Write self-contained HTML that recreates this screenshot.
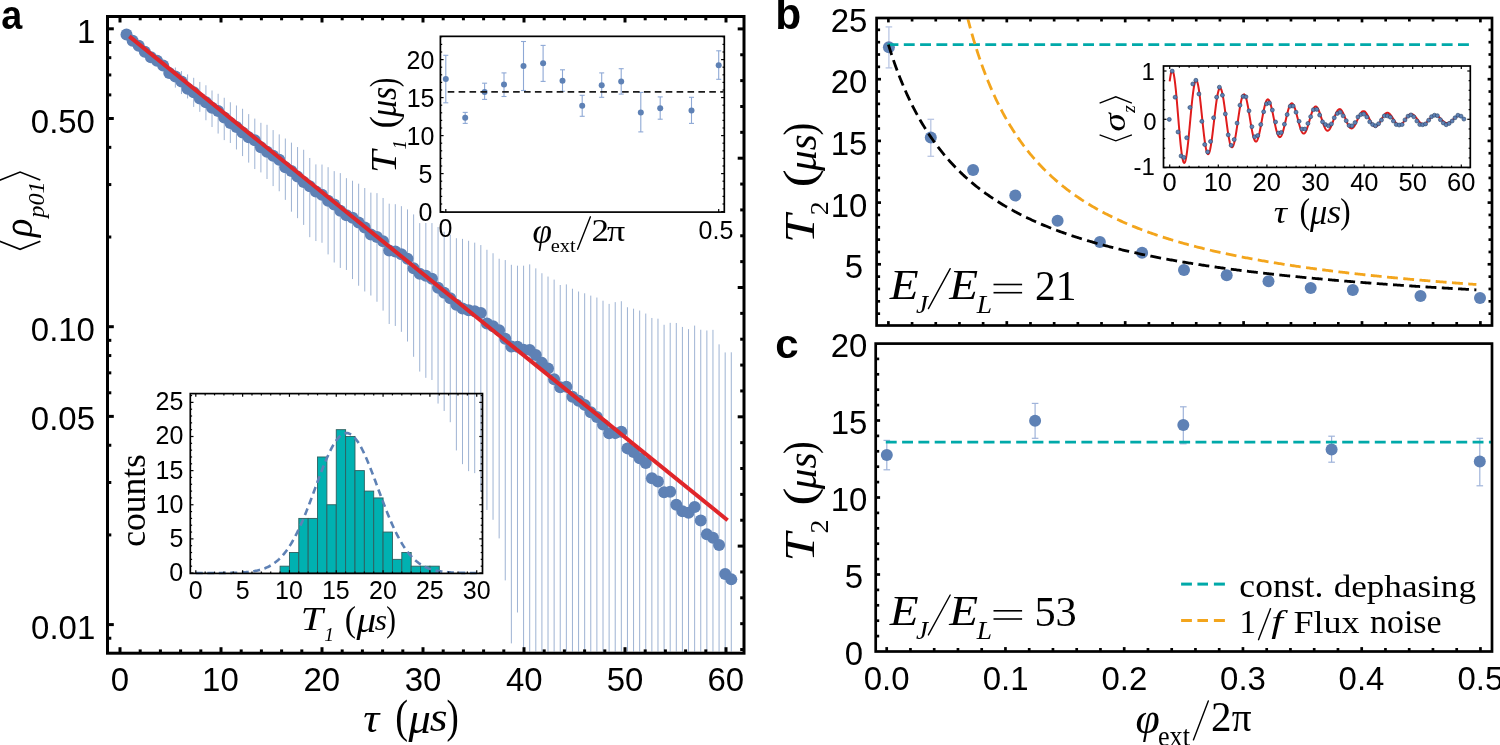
<!DOCTYPE html>
<html><head><meta charset="utf-8"><style>
html,body{margin:0;padding:0;background:#fff;}
svg{display:block;will-change:transform;}
</style></head><body>
<svg width="1500" height="745" viewBox="0 0 1500 745">
<defs>
<clipPath id="clipA"><rect x="109" y="18" width="633.5" height="633.7"/></clipPath>
<clipPath id="clipB"><rect x="878" y="19.5" width="612.5" height="304.2"/></clipPath>
</defs>
<rect width="1500" height="745" fill="#fff"/>
<g clip-path="url(#clipA)">
<line x1="126.50" y1="32.47" x2="126.50" y2="34.65" stroke="#5e81b5" stroke-width="1" stroke-opacity="0.6"/>
<line x1="132.61" y1="38.82" x2="132.61" y2="41.73" stroke="#5e81b5" stroke-width="1" stroke-opacity="0.6"/>
<line x1="138.72" y1="43.72" x2="138.72" y2="47.37" stroke="#5e81b5" stroke-width="1" stroke-opacity="0.6"/>
<line x1="144.83" y1="49.85" x2="144.83" y2="54.23" stroke="#5e81b5" stroke-width="1" stroke-opacity="0.6"/>
<line x1="150.94" y1="55.29" x2="150.94" y2="60.40" stroke="#5e81b5" stroke-width="1" stroke-opacity="0.6"/>
<line x1="157.05" y1="58.67" x2="157.05" y2="64.52" stroke="#5e81b5" stroke-width="1" stroke-opacity="0.6"/>
<line x1="163.15" y1="63.58" x2="163.15" y2="70.16" stroke="#5e81b5" stroke-width="1" stroke-opacity="0.6"/>
<line x1="169.26" y1="71.11" x2="169.26" y2="78.42" stroke="#5e81b5" stroke-width="1" stroke-opacity="0.6"/>
<line x1="175.37" y1="67.50" x2="175.37" y2="87.60" stroke="#5e81b5" stroke-width="1" stroke-opacity="0.6"/>
<line x1="181.48" y1="71.04" x2="181.48" y2="94.06" stroke="#5e81b5" stroke-width="1" stroke-opacity="0.6"/>
<line x1="187.59" y1="74.40" x2="187.59" y2="98.47" stroke="#5e81b5" stroke-width="1" stroke-opacity="0.6"/>
<line x1="193.70" y1="77.81" x2="193.70" y2="106.93" stroke="#5e81b5" stroke-width="1" stroke-opacity="0.6"/>
<line x1="199.81" y1="81.96" x2="199.81" y2="111.83" stroke="#5e81b5" stroke-width="1" stroke-opacity="0.6"/>
<line x1="205.92" y1="85.27" x2="205.92" y2="120.25" stroke="#5e81b5" stroke-width="1" stroke-opacity="0.6"/>
<line x1="212.03" y1="90.51" x2="212.03" y2="127.03" stroke="#5e81b5" stroke-width="1" stroke-opacity="0.6"/>
<line x1="218.13" y1="93.79" x2="218.13" y2="133.55" stroke="#5e81b5" stroke-width="1" stroke-opacity="0.6"/>
<line x1="224.24" y1="97.78" x2="224.24" y2="140.11" stroke="#5e81b5" stroke-width="1" stroke-opacity="0.6"/>
<line x1="230.35" y1="102.27" x2="230.35" y2="142.98" stroke="#5e81b5" stroke-width="1" stroke-opacity="0.6"/>
<line x1="236.46" y1="105.48" x2="236.46" y2="149.46" stroke="#5e81b5" stroke-width="1" stroke-opacity="0.6"/>
<line x1="242.57" y1="108.76" x2="242.57" y2="156.08" stroke="#5e81b5" stroke-width="1" stroke-opacity="0.6"/>
<line x1="248.68" y1="114.13" x2="248.68" y2="162.60" stroke="#5e81b5" stroke-width="1" stroke-opacity="0.6"/>
<line x1="254.79" y1="118.61" x2="254.79" y2="169.05" stroke="#5e81b5" stroke-width="1" stroke-opacity="0.6"/>
<line x1="260.90" y1="122.83" x2="260.90" y2="172.43" stroke="#5e81b5" stroke-width="1" stroke-opacity="0.6"/>
<line x1="267.01" y1="124.81" x2="267.01" y2="179.01" stroke="#5e81b5" stroke-width="1" stroke-opacity="0.6"/>
<line x1="273.12" y1="130.08" x2="273.12" y2="186.10" stroke="#5e81b5" stroke-width="1" stroke-opacity="0.6"/>
<line x1="279.23" y1="134.38" x2="279.23" y2="191.25" stroke="#5e81b5" stroke-width="1" stroke-opacity="0.6"/>
<line x1="285.33" y1="138.52" x2="285.33" y2="199.89" stroke="#5e81b5" stroke-width="1" stroke-opacity="0.6"/>
<line x1="291.44" y1="142.63" x2="291.44" y2="211.70" stroke="#5e81b5" stroke-width="1" stroke-opacity="0.6"/>
<line x1="297.55" y1="147.07" x2="297.55" y2="218.17" stroke="#5e81b5" stroke-width="1" stroke-opacity="0.6"/>
<line x1="303.66" y1="149.78" x2="303.66" y2="224.93" stroke="#5e81b5" stroke-width="1" stroke-opacity="0.6"/>
<line x1="309.77" y1="157.99" x2="309.77" y2="237.17" stroke="#5e81b5" stroke-width="1" stroke-opacity="0.6"/>
<line x1="315.88" y1="164.40" x2="315.88" y2="241.03" stroke="#5e81b5" stroke-width="1" stroke-opacity="0.6"/>
<line x1="321.99" y1="164.56" x2="321.99" y2="242.75" stroke="#5e81b5" stroke-width="1" stroke-opacity="0.6"/>
<line x1="328.10" y1="167.20" x2="328.10" y2="254.40" stroke="#5e81b5" stroke-width="1" stroke-opacity="0.6"/>
<line x1="334.21" y1="171.13" x2="334.21" y2="262.50" stroke="#5e81b5" stroke-width="1" stroke-opacity="0.6"/>
<line x1="340.31" y1="173.12" x2="340.31" y2="267.94" stroke="#5e81b5" stroke-width="1" stroke-opacity="0.6"/>
<line x1="346.42" y1="178.16" x2="346.42" y2="269.96" stroke="#5e81b5" stroke-width="1" stroke-opacity="0.6"/>
<line x1="352.53" y1="180.74" x2="352.53" y2="279.09" stroke="#5e81b5" stroke-width="1" stroke-opacity="0.6"/>
<line x1="358.64" y1="183.70" x2="358.64" y2="285.73" stroke="#5e81b5" stroke-width="1" stroke-opacity="0.6"/>
<line x1="364.75" y1="188.03" x2="364.75" y2="291.48" stroke="#5e81b5" stroke-width="1" stroke-opacity="0.6"/>
<line x1="370.86" y1="192.65" x2="370.86" y2="295.56" stroke="#5e81b5" stroke-width="1" stroke-opacity="0.6"/>
<line x1="376.97" y1="193.13" x2="376.97" y2="301.74" stroke="#5e81b5" stroke-width="1" stroke-opacity="0.6"/>
<line x1="383.08" y1="197.97" x2="383.08" y2="310.61" stroke="#5e81b5" stroke-width="1" stroke-opacity="0.6"/>
<line x1="389.19" y1="203.69" x2="389.19" y2="323.97" stroke="#5e81b5" stroke-width="1" stroke-opacity="0.6"/>
<line x1="395.30" y1="204.20" x2="395.30" y2="325.97" stroke="#5e81b5" stroke-width="1" stroke-opacity="0.6"/>
<line x1="401.40" y1="206.20" x2="401.40" y2="331.82" stroke="#5e81b5" stroke-width="1" stroke-opacity="0.6"/>
<line x1="407.51" y1="209.39" x2="407.51" y2="341.53" stroke="#5e81b5" stroke-width="1" stroke-opacity="0.6"/>
<line x1="413.62" y1="214.42" x2="413.62" y2="356.80" stroke="#5e81b5" stroke-width="1" stroke-opacity="0.6"/>
<line x1="419.73" y1="223.10" x2="419.73" y2="371.55" stroke="#5e81b5" stroke-width="1" stroke-opacity="0.6"/>
<line x1="425.84" y1="223.00" x2="425.84" y2="377.82" stroke="#5e81b5" stroke-width="1" stroke-opacity="0.6"/>
<line x1="431.95" y1="223.09" x2="431.95" y2="379.98" stroke="#5e81b5" stroke-width="1" stroke-opacity="0.6"/>
<line x1="438.06" y1="227.00" x2="438.06" y2="403.57" stroke="#5e81b5" stroke-width="1" stroke-opacity="0.6"/>
<line x1="444.17" y1="231.73" x2="444.17" y2="410.96" stroke="#5e81b5" stroke-width="1" stroke-opacity="0.6"/>
<line x1="450.28" y1="234.70" x2="450.28" y2="422.20" stroke="#5e81b5" stroke-width="1" stroke-opacity="0.6"/>
<line x1="456.39" y1="238.22" x2="456.39" y2="450.43" stroke="#5e81b5" stroke-width="1" stroke-opacity="0.6"/>
<line x1="462.50" y1="238.89" x2="462.50" y2="464.17" stroke="#5e81b5" stroke-width="1" stroke-opacity="0.6"/>
<line x1="468.60" y1="240.79" x2="468.60" y2="471.14" stroke="#5e81b5" stroke-width="1" stroke-opacity="0.6"/>
<line x1="474.71" y1="242.65" x2="474.71" y2="473.14" stroke="#5e81b5" stroke-width="1" stroke-opacity="0.6"/>
<line x1="480.82" y1="245.05" x2="480.82" y2="491.47" stroke="#5e81b5" stroke-width="1" stroke-opacity="0.6"/>
<line x1="486.93" y1="249.77" x2="486.93" y2="509.98" stroke="#5e81b5" stroke-width="1" stroke-opacity="0.6"/>
<line x1="493.04" y1="253.24" x2="493.04" y2="519.82" stroke="#5e81b5" stroke-width="1" stroke-opacity="0.6"/>
<line x1="499.15" y1="258.75" x2="499.15" y2="538.39" stroke="#5e81b5" stroke-width="1" stroke-opacity="0.6"/>
<line x1="505.26" y1="260.07" x2="505.26" y2="580.38" stroke="#5e81b5" stroke-width="1" stroke-opacity="0.6"/>
<line x1="511.37" y1="264.81" x2="511.37" y2="643.38" stroke="#5e81b5" stroke-width="1" stroke-opacity="0.6"/>
<line x1="517.48" y1="265.70" x2="517.48" y2="612.49" stroke="#5e81b5" stroke-width="1" stroke-opacity="0.6"/>
<line x1="523.59" y1="265.68" x2="523.59" y2="651.70" stroke="#5e81b5" stroke-width="1" stroke-opacity="0.6"/>
<line x1="529.69" y1="264.39" x2="529.69" y2="651.70" stroke="#5e81b5" stroke-width="1" stroke-opacity="0.6"/>
<line x1="535.80" y1="268.36" x2="535.80" y2="651.70" stroke="#5e81b5" stroke-width="1" stroke-opacity="0.6"/>
<line x1="541.91" y1="273.26" x2="541.91" y2="651.70" stroke="#5e81b5" stroke-width="1" stroke-opacity="0.6"/>
<line x1="548.02" y1="276.56" x2="548.02" y2="651.70" stroke="#5e81b5" stroke-width="1" stroke-opacity="0.6"/>
<line x1="554.13" y1="279.62" x2="554.13" y2="651.70" stroke="#5e81b5" stroke-width="1" stroke-opacity="0.6"/>
<line x1="560.24" y1="285.00" x2="560.24" y2="651.70" stroke="#5e81b5" stroke-width="1" stroke-opacity="0.6"/>
<line x1="566.35" y1="284.41" x2="566.35" y2="651.70" stroke="#5e81b5" stroke-width="1" stroke-opacity="0.6"/>
<line x1="572.46" y1="288.73" x2="572.46" y2="651.70" stroke="#5e81b5" stroke-width="1" stroke-opacity="0.6"/>
<line x1="578.57" y1="291.52" x2="578.57" y2="651.70" stroke="#5e81b5" stroke-width="1" stroke-opacity="0.6"/>
<line x1="584.67" y1="293.27" x2="584.67" y2="651.70" stroke="#5e81b5" stroke-width="1" stroke-opacity="0.6"/>
<line x1="590.78" y1="295.63" x2="590.78" y2="651.70" stroke="#5e81b5" stroke-width="1" stroke-opacity="0.6"/>
<line x1="596.89" y1="297.55" x2="596.89" y2="651.70" stroke="#5e81b5" stroke-width="1" stroke-opacity="0.6"/>
<line x1="603.00" y1="300.71" x2="603.00" y2="651.70" stroke="#5e81b5" stroke-width="1" stroke-opacity="0.6"/>
<line x1="609.11" y1="303.90" x2="609.11" y2="651.70" stroke="#5e81b5" stroke-width="1" stroke-opacity="0.6"/>
<line x1="615.22" y1="302.13" x2="615.22" y2="651.70" stroke="#5e81b5" stroke-width="1" stroke-opacity="0.6"/>
<line x1="621.33" y1="301.22" x2="621.33" y2="651.70" stroke="#5e81b5" stroke-width="1" stroke-opacity="0.6"/>
<line x1="627.44" y1="307.24" x2="627.44" y2="651.70" stroke="#5e81b5" stroke-width="1" stroke-opacity="0.6"/>
<line x1="633.55" y1="308.69" x2="633.55" y2="651.70" stroke="#5e81b5" stroke-width="1" stroke-opacity="0.6"/>
<line x1="639.66" y1="310.53" x2="639.66" y2="651.70" stroke="#5e81b5" stroke-width="1" stroke-opacity="0.6"/>
<line x1="645.76" y1="313.54" x2="645.76" y2="651.70" stroke="#5e81b5" stroke-width="1" stroke-opacity="0.6"/>
<line x1="651.87" y1="317.98" x2="651.87" y2="651.70" stroke="#5e81b5" stroke-width="1" stroke-opacity="0.6"/>
<line x1="657.98" y1="318.68" x2="657.98" y2="651.70" stroke="#5e81b5" stroke-width="1" stroke-opacity="0.6"/>
<line x1="664.09" y1="324.79" x2="664.09" y2="651.70" stroke="#5e81b5" stroke-width="1" stroke-opacity="0.6"/>
<line x1="670.20" y1="322.85" x2="670.20" y2="651.70" stroke="#5e81b5" stroke-width="1" stroke-opacity="0.6"/>
<line x1="676.31" y1="322.99" x2="676.31" y2="651.70" stroke="#5e81b5" stroke-width="1" stroke-opacity="0.6"/>
<line x1="682.42" y1="326.95" x2="682.42" y2="651.70" stroke="#5e81b5" stroke-width="1" stroke-opacity="0.6"/>
<line x1="688.53" y1="329.14" x2="688.53" y2="651.70" stroke="#5e81b5" stroke-width="1" stroke-opacity="0.6"/>
<line x1="694.64" y1="325.60" x2="694.64" y2="651.70" stroke="#5e81b5" stroke-width="1" stroke-opacity="0.6"/>
<line x1="700.75" y1="329.76" x2="700.75" y2="651.70" stroke="#5e81b5" stroke-width="1" stroke-opacity="0.6"/>
<line x1="706.86" y1="330.49" x2="706.86" y2="651.70" stroke="#5e81b5" stroke-width="1" stroke-opacity="0.6"/>
<line x1="712.96" y1="329.84" x2="712.96" y2="651.70" stroke="#5e81b5" stroke-width="1" stroke-opacity="0.6"/>
<line x1="719.07" y1="344.33" x2="719.07" y2="651.70" stroke="#5e81b5" stroke-width="1" stroke-opacity="0.6"/>
<line x1="725.18" y1="352.43" x2="725.18" y2="651.70" stroke="#5e81b5" stroke-width="1" stroke-opacity="0.6"/>
<line x1="731.29" y1="352.30" x2="731.29" y2="651.70" stroke="#5e81b5" stroke-width="1" stroke-opacity="0.6"/>
<circle cx="126.50" cy="34.47" r="6" fill="#5e81b5" />
<circle cx="132.61" cy="40.82" r="6" fill="#5e81b5" />
<circle cx="138.72" cy="45.72" r="6" fill="#5e81b5" />
<circle cx="144.83" cy="51.85" r="6" fill="#5e81b5" />
<circle cx="150.94" cy="57.29" r="6" fill="#5e81b5" />
<circle cx="157.05" cy="60.67" r="6" fill="#5e81b5" />
<circle cx="163.15" cy="65.58" r="6" fill="#5e81b5" />
<circle cx="169.26" cy="73.11" r="6" fill="#5e81b5" />
<circle cx="175.37" cy="76.44" r="6" fill="#5e81b5" />
<circle cx="181.48" cy="81.43" r="6" fill="#5e81b5" />
<circle cx="187.59" cy="88.77" r="6" fill="#5e81b5" />
<circle cx="193.70" cy="92.26" r="6" fill="#5e81b5" />
<circle cx="199.81" cy="98.42" r="6" fill="#5e81b5" />
<circle cx="205.92" cy="102.25" r="6" fill="#5e81b5" />
<circle cx="212.03" cy="107.65" r="6" fill="#5e81b5" />
<circle cx="218.13" cy="111.09" r="6" fill="#5e81b5" />
<circle cx="224.24" cy="117.46" r="6" fill="#5e81b5" />
<circle cx="230.35" cy="123.06" r="6" fill="#5e81b5" />
<circle cx="236.46" cy="126.94" r="6" fill="#5e81b5" />
<circle cx="242.57" cy="132.50" r="6" fill="#5e81b5" />
<circle cx="248.68" cy="137.20" r="6" fill="#5e81b5" />
<circle cx="254.79" cy="140.29" r="6" fill="#5e81b5" />
<circle cx="260.90" cy="147.28" r="6" fill="#5e81b5" />
<circle cx="267.01" cy="151.69" r="6" fill="#5e81b5" />
<circle cx="273.12" cy="155.73" r="6" fill="#5e81b5" />
<circle cx="279.23" cy="159.83" r="6" fill="#5e81b5" />
<circle cx="285.33" cy="167.24" r="6" fill="#5e81b5" />
<circle cx="291.44" cy="170.97" r="6" fill="#5e81b5" />
<circle cx="297.55" cy="176.62" r="6" fill="#5e81b5" />
<circle cx="303.66" cy="181.92" r="6" fill="#5e81b5" />
<circle cx="309.77" cy="186.19" r="6" fill="#5e81b5" />
<circle cx="315.88" cy="191.58" r="6" fill="#5e81b5" />
<circle cx="321.99" cy="194.76" r="6" fill="#5e81b5" />
<circle cx="328.10" cy="200.75" r="6" fill="#5e81b5" />
<circle cx="334.21" cy="204.44" r="6" fill="#5e81b5" />
<circle cx="340.31" cy="210.68" r="6" fill="#5e81b5" />
<circle cx="346.42" cy="215.28" r="6" fill="#5e81b5" />
<circle cx="352.53" cy="217.70" r="6" fill="#5e81b5" />
<circle cx="358.64" cy="222.58" r="6" fill="#5e81b5" />
<circle cx="364.75" cy="227.59" r="6" fill="#5e81b5" />
<circle cx="370.86" cy="234.49" r="6" fill="#5e81b5" />
<circle cx="376.97" cy="236.93" r="6" fill="#5e81b5" />
<circle cx="383.08" cy="241.15" r="6" fill="#5e81b5" />
<circle cx="389.19" cy="250.49" r="6" fill="#5e81b5" />
<circle cx="395.30" cy="251.53" r="6" fill="#5e81b5" />
<circle cx="401.40" cy="254.35" r="6" fill="#5e81b5" />
<circle cx="407.51" cy="258.86" r="6" fill="#5e81b5" />
<circle cx="413.62" cy="268.20" r="6" fill="#5e81b5" />
<circle cx="419.73" cy="273.70" r="6" fill="#5e81b5" />
<circle cx="425.84" cy="275.74" r="6" fill="#5e81b5" />
<circle cx="431.95" cy="278.79" r="6" fill="#5e81b5" />
<circle cx="438.06" cy="287.85" r="6" fill="#5e81b5" />
<circle cx="444.17" cy="292.70" r="6" fill="#5e81b5" />
<circle cx="450.28" cy="298.36" r="6" fill="#5e81b5" />
<circle cx="456.39" cy="304.84" r="6" fill="#5e81b5" />
<circle cx="462.50" cy="308.48" r="6" fill="#5e81b5" />
<circle cx="468.60" cy="310.19" r="6" fill="#5e81b5" />
<circle cx="474.71" cy="311.32" r="6" fill="#5e81b5" />
<circle cx="480.82" cy="313.05" r="6" fill="#5e81b5" />
<circle cx="486.93" cy="323.46" r="6" fill="#5e81b5" />
<circle cx="493.04" cy="326.36" r="6" fill="#5e81b5" />
<circle cx="499.15" cy="330.28" r="6" fill="#5e81b5" />
<circle cx="505.26" cy="338.68" r="6" fill="#5e81b5" />
<circle cx="511.37" cy="346.41" r="6" fill="#5e81b5" />
<circle cx="517.48" cy="346.64" r="6" fill="#5e81b5" />
<circle cx="523.59" cy="349.78" r="6" fill="#5e81b5" />
<circle cx="529.69" cy="349.88" r="6" fill="#5e81b5" />
<circle cx="535.80" cy="354.97" r="6" fill="#5e81b5" />
<circle cx="541.91" cy="362.87" r="6" fill="#5e81b5" />
<circle cx="548.02" cy="368.49" r="6" fill="#5e81b5" />
<circle cx="554.13" cy="379.24" r="6" fill="#5e81b5" />
<circle cx="560.24" cy="387.28" r="6" fill="#5e81b5" />
<circle cx="566.35" cy="386.71" r="6" fill="#5e81b5" />
<circle cx="572.46" cy="396.66" r="6" fill="#5e81b5" />
<circle cx="578.57" cy="400.84" r="6" fill="#5e81b5" />
<circle cx="584.67" cy="404.88" r="6" fill="#5e81b5" />
<circle cx="590.78" cy="412.26" r="6" fill="#5e81b5" />
<circle cx="596.89" cy="416.90" r="6" fill="#5e81b5" />
<circle cx="603.00" cy="424.58" r="6" fill="#5e81b5" />
<circle cx="609.11" cy="433.14" r="6" fill="#5e81b5" />
<circle cx="615.22" cy="433.13" r="6" fill="#5e81b5" />
<circle cx="621.33" cy="431.77" r="6" fill="#5e81b5" />
<circle cx="627.44" cy="448.38" r="6" fill="#5e81b5" />
<circle cx="633.55" cy="452.07" r="6" fill="#5e81b5" />
<circle cx="639.66" cy="458.17" r="6" fill="#5e81b5" />
<circle cx="645.76" cy="462.99" r="6" fill="#5e81b5" />
<circle cx="651.87" cy="478.27" r="6" fill="#5e81b5" />
<circle cx="657.98" cy="481.49" r="6" fill="#5e81b5" />
<circle cx="664.09" cy="492.22" r="6" fill="#5e81b5" />
<circle cx="670.20" cy="491.66" r="6" fill="#5e81b5" />
<circle cx="676.31" cy="504.76" r="6" fill="#5e81b5" />
<circle cx="682.42" cy="511.24" r="6" fill="#5e81b5" />
<circle cx="688.53" cy="512.65" r="6" fill="#5e81b5" />
<circle cx="694.64" cy="507.00" r="6" fill="#5e81b5" />
<circle cx="700.75" cy="520.42" r="6" fill="#5e81b5" />
<circle cx="706.86" cy="534.37" r="6" fill="#5e81b5" />
<circle cx="712.96" cy="537.67" r="6" fill="#5e81b5" />
<circle cx="719.07" cy="544.89" r="6" fill="#5e81b5" />
<circle cx="725.18" cy="574.06" r="6" fill="#5e81b5" />
<circle cx="731.29" cy="579.37" r="6" fill="#5e81b5" />
</g>
<line x1="129.30" y1="36.40" x2="727.60" y2="520.20" stroke="#e0262a" stroke-width="4.0" />
<rect x="107.50" y="16.50" width="636.50" height="636.70" fill="none" stroke="#000" stroke-width="3"/>
<line x1="120.00" y1="653.20" x2="120.00" y2="647.20" stroke="#000" stroke-width="3" />
<line x1="120.00" y1="16.50" x2="120.00" y2="22.50" stroke="#000" stroke-width="3" />
<line x1="140.20" y1="653.20" x2="140.20" y2="649.40" stroke="#000" stroke-width="3" />
<line x1="140.20" y1="16.50" x2="140.20" y2="20.30" stroke="#000" stroke-width="3" />
<line x1="160.40" y1="653.20" x2="160.40" y2="649.40" stroke="#000" stroke-width="3" />
<line x1="160.40" y1="16.50" x2="160.40" y2="20.30" stroke="#000" stroke-width="3" />
<line x1="180.60" y1="653.20" x2="180.60" y2="649.40" stroke="#000" stroke-width="3" />
<line x1="180.60" y1="16.50" x2="180.60" y2="20.30" stroke="#000" stroke-width="3" />
<line x1="200.80" y1="653.20" x2="200.80" y2="649.40" stroke="#000" stroke-width="3" />
<line x1="200.80" y1="16.50" x2="200.80" y2="20.30" stroke="#000" stroke-width="3" />
<line x1="221.00" y1="653.20" x2="221.00" y2="647.20" stroke="#000" stroke-width="3" />
<line x1="221.00" y1="16.50" x2="221.00" y2="22.50" stroke="#000" stroke-width="3" />
<line x1="241.20" y1="653.20" x2="241.20" y2="649.40" stroke="#000" stroke-width="3" />
<line x1="241.20" y1="16.50" x2="241.20" y2="20.30" stroke="#000" stroke-width="3" />
<line x1="261.40" y1="653.20" x2="261.40" y2="649.40" stroke="#000" stroke-width="3" />
<line x1="261.40" y1="16.50" x2="261.40" y2="20.30" stroke="#000" stroke-width="3" />
<line x1="281.60" y1="653.20" x2="281.60" y2="649.40" stroke="#000" stroke-width="3" />
<line x1="281.60" y1="16.50" x2="281.60" y2="20.30" stroke="#000" stroke-width="3" />
<line x1="301.80" y1="653.20" x2="301.80" y2="649.40" stroke="#000" stroke-width="3" />
<line x1="301.80" y1="16.50" x2="301.80" y2="20.30" stroke="#000" stroke-width="3" />
<line x1="322.00" y1="653.20" x2="322.00" y2="647.20" stroke="#000" stroke-width="3" />
<line x1="322.00" y1="16.50" x2="322.00" y2="22.50" stroke="#000" stroke-width="3" />
<line x1="342.20" y1="653.20" x2="342.20" y2="649.40" stroke="#000" stroke-width="3" />
<line x1="342.20" y1="16.50" x2="342.20" y2="20.30" stroke="#000" stroke-width="3" />
<line x1="362.40" y1="653.20" x2="362.40" y2="649.40" stroke="#000" stroke-width="3" />
<line x1="362.40" y1="16.50" x2="362.40" y2="20.30" stroke="#000" stroke-width="3" />
<line x1="382.60" y1="653.20" x2="382.60" y2="649.40" stroke="#000" stroke-width="3" />
<line x1="382.60" y1="16.50" x2="382.60" y2="20.30" stroke="#000" stroke-width="3" />
<line x1="402.80" y1="653.20" x2="402.80" y2="649.40" stroke="#000" stroke-width="3" />
<line x1="402.80" y1="16.50" x2="402.80" y2="20.30" stroke="#000" stroke-width="3" />
<line x1="423.00" y1="653.20" x2="423.00" y2="647.20" stroke="#000" stroke-width="3" />
<line x1="423.00" y1="16.50" x2="423.00" y2="22.50" stroke="#000" stroke-width="3" />
<line x1="443.20" y1="653.20" x2="443.20" y2="649.40" stroke="#000" stroke-width="3" />
<line x1="443.20" y1="16.50" x2="443.20" y2="20.30" stroke="#000" stroke-width="3" />
<line x1="463.40" y1="653.20" x2="463.40" y2="649.40" stroke="#000" stroke-width="3" />
<line x1="463.40" y1="16.50" x2="463.40" y2="20.30" stroke="#000" stroke-width="3" />
<line x1="483.60" y1="653.20" x2="483.60" y2="649.40" stroke="#000" stroke-width="3" />
<line x1="483.60" y1="16.50" x2="483.60" y2="20.30" stroke="#000" stroke-width="3" />
<line x1="503.80" y1="653.20" x2="503.80" y2="649.40" stroke="#000" stroke-width="3" />
<line x1="503.80" y1="16.50" x2="503.80" y2="20.30" stroke="#000" stroke-width="3" />
<line x1="524.00" y1="653.20" x2="524.00" y2="647.20" stroke="#000" stroke-width="3" />
<line x1="524.00" y1="16.50" x2="524.00" y2="22.50" stroke="#000" stroke-width="3" />
<line x1="544.20" y1="653.20" x2="544.20" y2="649.40" stroke="#000" stroke-width="3" />
<line x1="544.20" y1="16.50" x2="544.20" y2="20.30" stroke="#000" stroke-width="3" />
<line x1="564.40" y1="653.20" x2="564.40" y2="649.40" stroke="#000" stroke-width="3" />
<line x1="564.40" y1="16.50" x2="564.40" y2="20.30" stroke="#000" stroke-width="3" />
<line x1="584.60" y1="653.20" x2="584.60" y2="649.40" stroke="#000" stroke-width="3" />
<line x1="584.60" y1="16.50" x2="584.60" y2="20.30" stroke="#000" stroke-width="3" />
<line x1="604.80" y1="653.20" x2="604.80" y2="649.40" stroke="#000" stroke-width="3" />
<line x1="604.80" y1="16.50" x2="604.80" y2="20.30" stroke="#000" stroke-width="3" />
<line x1="625.00" y1="653.20" x2="625.00" y2="647.20" stroke="#000" stroke-width="3" />
<line x1="625.00" y1="16.50" x2="625.00" y2="22.50" stroke="#000" stroke-width="3" />
<line x1="645.20" y1="653.20" x2="645.20" y2="649.40" stroke="#000" stroke-width="3" />
<line x1="645.20" y1="16.50" x2="645.20" y2="20.30" stroke="#000" stroke-width="3" />
<line x1="665.40" y1="653.20" x2="665.40" y2="649.40" stroke="#000" stroke-width="3" />
<line x1="665.40" y1="16.50" x2="665.40" y2="20.30" stroke="#000" stroke-width="3" />
<line x1="685.60" y1="653.20" x2="685.60" y2="649.40" stroke="#000" stroke-width="3" />
<line x1="685.60" y1="16.50" x2="685.60" y2="20.30" stroke="#000" stroke-width="3" />
<line x1="705.80" y1="653.20" x2="705.80" y2="649.40" stroke="#000" stroke-width="3" />
<line x1="705.80" y1="16.50" x2="705.80" y2="20.30" stroke="#000" stroke-width="3" />
<line x1="726.00" y1="653.20" x2="726.00" y2="647.20" stroke="#000" stroke-width="3" />
<line x1="726.00" y1="16.50" x2="726.00" y2="22.50" stroke="#000" stroke-width="3" />
<line x1="107.50" y1="28.80" x2="113.80" y2="28.80" stroke="#000" stroke-width="3" />
<line x1="107.50" y1="118.48" x2="113.80" y2="118.48" stroke="#000" stroke-width="3" />
<line x1="107.50" y1="326.70" x2="113.80" y2="326.70" stroke="#000" stroke-width="3" />
<line x1="107.50" y1="416.38" x2="113.80" y2="416.38" stroke="#000" stroke-width="3" />
<line x1="107.50" y1="624.60" x2="113.80" y2="624.60" stroke="#000" stroke-width="3" />
<line x1="107.50" y1="42.43" x2="111.30" y2="42.43" stroke="#000" stroke-width="3" />
<line x1="107.50" y1="57.67" x2="111.30" y2="57.67" stroke="#000" stroke-width="3" />
<line x1="107.50" y1="74.95" x2="111.30" y2="74.95" stroke="#000" stroke-width="3" />
<line x1="107.50" y1="94.89" x2="111.30" y2="94.89" stroke="#000" stroke-width="3" />
<line x1="107.50" y1="147.35" x2="111.30" y2="147.35" stroke="#000" stroke-width="3" />
<line x1="107.50" y1="184.57" x2="111.30" y2="184.57" stroke="#000" stroke-width="3" />
<line x1="107.50" y1="237.02" x2="111.30" y2="237.02" stroke="#000" stroke-width="3" />
<line x1="107.50" y1="340.33" x2="111.30" y2="340.33" stroke="#000" stroke-width="3" />
<line x1="107.50" y1="355.57" x2="111.30" y2="355.57" stroke="#000" stroke-width="3" />
<line x1="107.50" y1="372.85" x2="111.30" y2="372.85" stroke="#000" stroke-width="3" />
<line x1="107.50" y1="392.79" x2="111.30" y2="392.79" stroke="#000" stroke-width="3" />
<line x1="107.50" y1="445.25" x2="111.30" y2="445.25" stroke="#000" stroke-width="3" />
<line x1="107.50" y1="482.47" x2="111.30" y2="482.47" stroke="#000" stroke-width="3" />
<line x1="107.50" y1="534.92" x2="111.30" y2="534.92" stroke="#000" stroke-width="3" />
<line x1="107.50" y1="638.23" x2="111.30" y2="638.23" stroke="#000" stroke-width="3" />
<line x1="744.00" y1="28.90" x2="737.70" y2="28.90" stroke="#000" stroke-width="3" />
<line x1="744.00" y1="54.76" x2="740.20" y2="54.76" stroke="#000" stroke-width="3" />
<line x1="744.00" y1="80.62" x2="740.20" y2="80.62" stroke="#000" stroke-width="3" />
<line x1="744.00" y1="106.48" x2="740.20" y2="106.48" stroke="#000" stroke-width="3" />
<line x1="744.00" y1="132.34" x2="740.20" y2="132.34" stroke="#000" stroke-width="3" />
<line x1="744.00" y1="158.20" x2="737.70" y2="158.20" stroke="#000" stroke-width="3" />
<line x1="744.00" y1="184.06" x2="740.20" y2="184.06" stroke="#000" stroke-width="3" />
<line x1="744.00" y1="209.92" x2="740.20" y2="209.92" stroke="#000" stroke-width="3" />
<line x1="744.00" y1="235.78" x2="740.20" y2="235.78" stroke="#000" stroke-width="3" />
<line x1="744.00" y1="261.64" x2="740.20" y2="261.64" stroke="#000" stroke-width="3" />
<line x1="744.00" y1="287.50" x2="737.70" y2="287.50" stroke="#000" stroke-width="3" />
<line x1="744.00" y1="313.36" x2="740.20" y2="313.36" stroke="#000" stroke-width="3" />
<line x1="744.00" y1="339.22" x2="740.20" y2="339.22" stroke="#000" stroke-width="3" />
<line x1="744.00" y1="365.08" x2="740.20" y2="365.08" stroke="#000" stroke-width="3" />
<line x1="744.00" y1="390.94" x2="740.20" y2="390.94" stroke="#000" stroke-width="3" />
<line x1="744.00" y1="416.80" x2="737.70" y2="416.80" stroke="#000" stroke-width="3" />
<line x1="744.00" y1="442.66" x2="740.20" y2="442.66" stroke="#000" stroke-width="3" />
<line x1="744.00" y1="468.52" x2="740.20" y2="468.52" stroke="#000" stroke-width="3" />
<line x1="744.00" y1="494.38" x2="740.20" y2="494.38" stroke="#000" stroke-width="3" />
<line x1="744.00" y1="520.24" x2="740.20" y2="520.24" stroke="#000" stroke-width="3" />
<line x1="744.00" y1="546.10" x2="737.70" y2="546.10" stroke="#000" stroke-width="3" />
<line x1="744.00" y1="571.96" x2="740.20" y2="571.96" stroke="#000" stroke-width="3" />
<line x1="744.00" y1="597.82" x2="740.20" y2="597.82" stroke="#000" stroke-width="3" />
<line x1="744.00" y1="623.68" x2="740.20" y2="623.68" stroke="#000" stroke-width="3" />
<line x1="744.00" y1="649.54" x2="740.20" y2="649.54" stroke="#000" stroke-width="3" />
<text transform="translate(76.96,42.89) scale(0.9700,1)" font-size="34.00" font-family="Liberation Sans" fill="#000">1</text>
<text transform="translate(30.79,132.56) scale(0.9700,1)" font-size="34.00" font-family="Liberation Sans" fill="#000">0.50</text>
<text transform="translate(30.79,340.79) scale(0.9700,1)" font-size="34.00" font-family="Liberation Sans" fill="#000">0.10</text>
<text transform="translate(30.87,430.46) scale(0.9700,1)" font-size="34.00" font-family="Liberation Sans" fill="#000">0.05</text>
<text transform="translate(31.12,638.69) scale(0.9700,1)" font-size="34.00" font-family="Liberation Sans" fill="#000">0.01</text>
<text transform="translate(110.81,691.19) scale(0.9700,1)" font-size="34.00" font-family="Liberation Sans" fill="#000">0</text>
<text transform="translate(202.08,691.19) scale(0.9700,1)" font-size="34.00" font-family="Liberation Sans" fill="#000">10</text>
<text transform="translate(303.49,691.19) scale(0.9700,1)" font-size="34.00" font-family="Liberation Sans" fill="#000">20</text>
<text transform="translate(404.70,691.19) scale(0.9700,1)" font-size="34.00" font-family="Liberation Sans" fill="#000">30</text>
<text transform="translate(505.94,691.19) scale(0.9700,1)" font-size="34.00" font-family="Liberation Sans" fill="#000">40</text>
<text transform="translate(606.65,691.19) scale(0.9700,1)" font-size="34.00" font-family="Liberation Sans" fill="#000">50</text>
<text transform="translate(707.49,691.19) scale(0.9700,1)" font-size="34.00" font-family="Liberation Sans" fill="#000">60</text>
<text transform="translate(1.27,29.39) scale(0.9144,1)" font-size="41.28" font-family="Liberation Sans" font-weight="bold" fill="#000">a</text>
<line x1="440.40" y1="211.60" x2="443.60" y2="211.60" stroke="#000" stroke-width="1.2" />
<line x1="724.30" y1="211.60" x2="721.10" y2="211.60" stroke="#000" stroke-width="1.2" />
<line x1="440.40" y1="204.00" x2="442.20" y2="204.00" stroke="#000" stroke-width="1.2" />
<line x1="724.30" y1="204.00" x2="722.50" y2="204.00" stroke="#000" stroke-width="1.2" />
<line x1="440.40" y1="196.40" x2="442.20" y2="196.40" stroke="#000" stroke-width="1.2" />
<line x1="724.30" y1="196.40" x2="722.50" y2="196.40" stroke="#000" stroke-width="1.2" />
<line x1="440.40" y1="188.80" x2="442.20" y2="188.80" stroke="#000" stroke-width="1.2" />
<line x1="724.30" y1="188.80" x2="722.50" y2="188.80" stroke="#000" stroke-width="1.2" />
<line x1="440.40" y1="181.20" x2="442.20" y2="181.20" stroke="#000" stroke-width="1.2" />
<line x1="724.30" y1="181.20" x2="722.50" y2="181.20" stroke="#000" stroke-width="1.2" />
<line x1="440.40" y1="173.60" x2="443.60" y2="173.60" stroke="#000" stroke-width="1.2" />
<line x1="724.30" y1="173.60" x2="721.10" y2="173.60" stroke="#000" stroke-width="1.2" />
<line x1="440.40" y1="166.00" x2="442.20" y2="166.00" stroke="#000" stroke-width="1.2" />
<line x1="724.30" y1="166.00" x2="722.50" y2="166.00" stroke="#000" stroke-width="1.2" />
<line x1="440.40" y1="158.40" x2="442.20" y2="158.40" stroke="#000" stroke-width="1.2" />
<line x1="724.30" y1="158.40" x2="722.50" y2="158.40" stroke="#000" stroke-width="1.2" />
<line x1="440.40" y1="150.80" x2="442.20" y2="150.80" stroke="#000" stroke-width="1.2" />
<line x1="724.30" y1="150.80" x2="722.50" y2="150.80" stroke="#000" stroke-width="1.2" />
<line x1="440.40" y1="143.20" x2="442.20" y2="143.20" stroke="#000" stroke-width="1.2" />
<line x1="724.30" y1="143.20" x2="722.50" y2="143.20" stroke="#000" stroke-width="1.2" />
<line x1="440.40" y1="135.60" x2="443.60" y2="135.60" stroke="#000" stroke-width="1.2" />
<line x1="724.30" y1="135.60" x2="721.10" y2="135.60" stroke="#000" stroke-width="1.2" />
<line x1="440.40" y1="128.00" x2="442.20" y2="128.00" stroke="#000" stroke-width="1.2" />
<line x1="724.30" y1="128.00" x2="722.50" y2="128.00" stroke="#000" stroke-width="1.2" />
<line x1="440.40" y1="120.40" x2="442.20" y2="120.40" stroke="#000" stroke-width="1.2" />
<line x1="724.30" y1="120.40" x2="722.50" y2="120.40" stroke="#000" stroke-width="1.2" />
<line x1="440.40" y1="112.80" x2="442.20" y2="112.80" stroke="#000" stroke-width="1.2" />
<line x1="724.30" y1="112.80" x2="722.50" y2="112.80" stroke="#000" stroke-width="1.2" />
<line x1="440.40" y1="105.20" x2="442.20" y2="105.20" stroke="#000" stroke-width="1.2" />
<line x1="724.30" y1="105.20" x2="722.50" y2="105.20" stroke="#000" stroke-width="1.2" />
<line x1="440.40" y1="97.60" x2="443.60" y2="97.60" stroke="#000" stroke-width="1.2" />
<line x1="724.30" y1="97.60" x2="721.10" y2="97.60" stroke="#000" stroke-width="1.2" />
<line x1="440.40" y1="90.00" x2="442.20" y2="90.00" stroke="#000" stroke-width="1.2" />
<line x1="724.30" y1="90.00" x2="722.50" y2="90.00" stroke="#000" stroke-width="1.2" />
<line x1="440.40" y1="82.40" x2="442.20" y2="82.40" stroke="#000" stroke-width="1.2" />
<line x1="724.30" y1="82.40" x2="722.50" y2="82.40" stroke="#000" stroke-width="1.2" />
<line x1="440.40" y1="74.80" x2="442.20" y2="74.80" stroke="#000" stroke-width="1.2" />
<line x1="724.30" y1="74.80" x2="722.50" y2="74.80" stroke="#000" stroke-width="1.2" />
<line x1="440.40" y1="67.20" x2="442.20" y2="67.20" stroke="#000" stroke-width="1.2" />
<line x1="724.30" y1="67.20" x2="722.50" y2="67.20" stroke="#000" stroke-width="1.2" />
<line x1="440.40" y1="59.60" x2="443.60" y2="59.60" stroke="#000" stroke-width="1.2" />
<line x1="724.30" y1="59.60" x2="721.10" y2="59.60" stroke="#000" stroke-width="1.2" />
<line x1="440.40" y1="52.00" x2="442.20" y2="52.00" stroke="#000" stroke-width="1.2" />
<line x1="724.30" y1="52.00" x2="722.50" y2="52.00" stroke="#000" stroke-width="1.2" />
<line x1="440.40" y1="44.40" x2="442.20" y2="44.40" stroke="#000" stroke-width="1.2" />
<line x1="724.30" y1="44.40" x2="722.50" y2="44.40" stroke="#000" stroke-width="1.2" />
<line x1="440.40" y1="36.80" x2="442.20" y2="36.80" stroke="#000" stroke-width="1.2" />
<line x1="724.30" y1="36.80" x2="722.50" y2="36.80" stroke="#000" stroke-width="1.2" />
<line x1="445.80" y1="212.10" x2="445.80" y2="209.10" stroke="#000" stroke-width="1.2" />
<line x1="718.70" y1="212.10" x2="718.70" y2="209.10" stroke="#000" stroke-width="1.2" />
<text x="418.46" y="221.19" font-size="25.00" font-family="Liberation Sans" fill="#000">0</text>
<text x="418.52" y="183.19" font-size="25.00" font-family="Liberation Sans" fill="#000">5</text>
<text x="406.59" y="145.19" font-size="25.00" font-family="Liberation Sans" fill="#000">10</text>
<text x="406.65" y="107.19" font-size="25.00" font-family="Liberation Sans" fill="#000">15</text>
<text x="406.59" y="69.19" font-size="25.00" font-family="Liberation Sans" fill="#000">20</text>
<text x="438.43" y="236.99" font-size="25.00" font-family="Liberation Sans" fill="#000">0</text>
<text x="698.62" y="238.59" font-size="25.00" font-family="Liberation Sans" fill="#000">0.5</text>
<line x1="445.80" y1="55.30" x2="445.80" y2="102.80" stroke="#8ea8d5" stroke-width="1.1" />
<line x1="443.30" y1="55.30" x2="448.30" y2="55.30" stroke="#8ea8d5" stroke-width="1.1" />
<line x1="443.30" y1="102.80" x2="448.30" y2="102.80" stroke="#8ea8d5" stroke-width="1.1" />
<circle cx="445.80" cy="79.00" r="3.0" fill="#5e81b5" />
<line x1="465.20" y1="112.40" x2="465.20" y2="123.40" stroke="#8ea8d5" stroke-width="1.1" />
<line x1="462.70" y1="112.40" x2="467.70" y2="112.40" stroke="#8ea8d5" stroke-width="1.1" />
<line x1="462.70" y1="123.40" x2="467.70" y2="123.40" stroke="#8ea8d5" stroke-width="1.1" />
<circle cx="465.20" cy="117.80" r="3.0" fill="#5e81b5" />
<line x1="484.60" y1="83.20" x2="484.60" y2="99.40" stroke="#8ea8d5" stroke-width="1.1" />
<line x1="482.10" y1="83.20" x2="487.10" y2="83.20" stroke="#8ea8d5" stroke-width="1.1" />
<line x1="482.10" y1="99.40" x2="487.10" y2="99.40" stroke="#8ea8d5" stroke-width="1.1" />
<circle cx="484.60" cy="92.00" r="3.0" fill="#5e81b5" />
<line x1="504.00" y1="72.90" x2="504.00" y2="96.50" stroke="#8ea8d5" stroke-width="1.1" />
<line x1="501.50" y1="72.90" x2="506.50" y2="72.90" stroke="#8ea8d5" stroke-width="1.1" />
<line x1="501.50" y1="96.50" x2="506.50" y2="96.50" stroke="#8ea8d5" stroke-width="1.1" />
<circle cx="504.00" cy="84.60" r="3.0" fill="#5e81b5" />
<line x1="523.50" y1="41.50" x2="523.50" y2="90.50" stroke="#8ea8d5" stroke-width="1.1" />
<line x1="521.00" y1="41.50" x2="526.00" y2="41.50" stroke="#8ea8d5" stroke-width="1.1" />
<line x1="521.00" y1="90.50" x2="526.00" y2="90.50" stroke="#8ea8d5" stroke-width="1.1" />
<circle cx="523.50" cy="65.90" r="3.0" fill="#5e81b5" />
<line x1="543.10" y1="45.40" x2="543.10" y2="81.40" stroke="#8ea8d5" stroke-width="1.1" />
<line x1="540.60" y1="45.40" x2="545.60" y2="45.40" stroke="#8ea8d5" stroke-width="1.1" />
<line x1="540.60" y1="81.40" x2="545.60" y2="81.40" stroke="#8ea8d5" stroke-width="1.1" />
<circle cx="543.10" cy="63.30" r="3.0" fill="#5e81b5" />
<line x1="562.50" y1="69.80" x2="562.50" y2="91.30" stroke="#8ea8d5" stroke-width="1.1" />
<line x1="560.00" y1="69.80" x2="565.00" y2="69.80" stroke="#8ea8d5" stroke-width="1.1" />
<line x1="560.00" y1="91.30" x2="565.00" y2="91.30" stroke="#8ea8d5" stroke-width="1.1" />
<circle cx="562.50" cy="80.70" r="3.0" fill="#5e81b5" />
<line x1="582.20" y1="95.30" x2="582.20" y2="116.30" stroke="#8ea8d5" stroke-width="1.1" />
<line x1="579.70" y1="95.30" x2="584.70" y2="95.30" stroke="#8ea8d5" stroke-width="1.1" />
<line x1="579.70" y1="116.30" x2="584.70" y2="116.30" stroke="#8ea8d5" stroke-width="1.1" />
<circle cx="582.20" cy="105.70" r="3.0" fill="#5e81b5" />
<line x1="601.70" y1="72.90" x2="601.70" y2="97.30" stroke="#8ea8d5" stroke-width="1.1" />
<line x1="599.20" y1="72.90" x2="604.20" y2="72.90" stroke="#8ea8d5" stroke-width="1.1" />
<line x1="599.20" y1="97.30" x2="604.20" y2="97.30" stroke="#8ea8d5" stroke-width="1.1" />
<circle cx="601.70" cy="85.20" r="3.0" fill="#5e81b5" />
<line x1="621.20" y1="68.70" x2="621.20" y2="94.10" stroke="#8ea8d5" stroke-width="1.1" />
<line x1="618.70" y1="68.70" x2="623.70" y2="68.70" stroke="#8ea8d5" stroke-width="1.1" />
<line x1="618.70" y1="94.10" x2="623.70" y2="94.10" stroke="#8ea8d5" stroke-width="1.1" />
<circle cx="621.20" cy="81.40" r="3.0" fill="#5e81b5" />
<line x1="640.80" y1="92.40" x2="640.80" y2="131.90" stroke="#8ea8d5" stroke-width="1.1" />
<line x1="638.30" y1="92.40" x2="643.30" y2="92.40" stroke="#8ea8d5" stroke-width="1.1" />
<line x1="638.30" y1="131.90" x2="643.30" y2="131.90" stroke="#8ea8d5" stroke-width="1.1" />
<circle cx="640.80" cy="112.40" r="3.0" fill="#5e81b5" />
<line x1="660.20" y1="96.90" x2="660.20" y2="119.20" stroke="#8ea8d5" stroke-width="1.1" />
<line x1="657.70" y1="96.90" x2="662.70" y2="96.90" stroke="#8ea8d5" stroke-width="1.1" />
<line x1="657.70" y1="119.20" x2="662.70" y2="119.20" stroke="#8ea8d5" stroke-width="1.1" />
<circle cx="660.20" cy="108.20" r="3.0" fill="#5e81b5" />
<line x1="691.50" y1="97.30" x2="691.50" y2="123.40" stroke="#8ea8d5" stroke-width="1.1" />
<line x1="689.00" y1="97.30" x2="694.00" y2="97.30" stroke="#8ea8d5" stroke-width="1.1" />
<line x1="689.00" y1="123.40" x2="694.00" y2="123.40" stroke="#8ea8d5" stroke-width="1.1" />
<circle cx="691.50" cy="110.60" r="3.0" fill="#5e81b5" />
<line x1="718.70" y1="50.80" x2="718.70" y2="79.30" stroke="#8ea8d5" stroke-width="1.1" />
<line x1="716.20" y1="50.80" x2="721.20" y2="50.80" stroke="#8ea8d5" stroke-width="1.1" />
<line x1="716.20" y1="79.30" x2="721.20" y2="79.30" stroke="#8ea8d5" stroke-width="1.1" />
<circle cx="718.70" cy="65.20" r="3.0" fill="#5e81b5" />
<line x1="447.70" y1="91.80" x2="723.50" y2="91.80" stroke="#1c1c1c" stroke-width="1.8" stroke-dasharray="6.6 4.3"/>
<rect x="440.40" y="36.35" width="283.90" height="175.75" fill="none" stroke="#000" stroke-width="1.7"/>
<rect x="280.08" y="566.17" width="9.364" height="6.83" fill="#00b1b1" stroke="#2d5f5f" stroke-width="0.9"/>
<rect x="289.44" y="552.52" width="9.364" height="20.48" fill="#00b1b1" stroke="#2d5f5f" stroke-width="0.9"/>
<rect x="298.80" y="518.40" width="9.364" height="54.60" fill="#00b1b1" stroke="#2d5f5f" stroke-width="0.9"/>
<rect x="308.17" y="518.40" width="9.364" height="54.60" fill="#00b1b1" stroke="#2d5f5f" stroke-width="0.9"/>
<rect x="317.53" y="456.98" width="9.364" height="116.03" fill="#00b1b1" stroke="#2d5f5f" stroke-width="0.9"/>
<rect x="326.90" y="504.75" width="9.364" height="68.25" fill="#00b1b1" stroke="#2d5f5f" stroke-width="0.9"/>
<rect x="336.26" y="429.67" width="9.364" height="143.33" fill="#00b1b1" stroke="#2d5f5f" stroke-width="0.9"/>
<rect x="345.62" y="436.50" width="9.364" height="136.50" fill="#00b1b1" stroke="#2d5f5f" stroke-width="0.9"/>
<rect x="354.99" y="470.62" width="9.364" height="102.38" fill="#00b1b1" stroke="#2d5f5f" stroke-width="0.9"/>
<rect x="364.35" y="491.10" width="9.364" height="81.90" fill="#00b1b1" stroke="#2d5f5f" stroke-width="0.9"/>
<rect x="373.72" y="497.93" width="9.364" height="75.08" fill="#00b1b1" stroke="#2d5f5f" stroke-width="0.9"/>
<rect x="383.08" y="532.05" width="9.364" height="40.95" fill="#00b1b1" stroke="#2d5f5f" stroke-width="0.9"/>
<rect x="392.44" y="559.35" width="9.364" height="13.65" fill="#00b1b1" stroke="#2d5f5f" stroke-width="0.9"/>
<rect x="401.81" y="552.52" width="9.364" height="20.48" fill="#00b1b1" stroke="#2d5f5f" stroke-width="0.9"/>
<rect x="411.17" y="566.17" width="9.364" height="6.83" fill="#00b1b1" stroke="#2d5f5f" stroke-width="0.9"/>
<rect x="420.54" y="566.17" width="9.364" height="6.83" fill="#00b1b1" stroke="#2d5f5f" stroke-width="0.9"/>
<rect x="429.90" y="566.17" width="9.364" height="6.83" fill="#00b1b1" stroke="#2d5f5f" stroke-width="0.9"/>
<path d="M195.80,573.00 L196.74,573.00 L197.67,573.00 L198.61,573.00 L199.55,573.00 L200.48,573.00 L201.42,573.00 L202.35,573.00 L203.29,573.00 L204.23,573.00 L205.16,572.99 L206.10,572.99 L207.04,572.99 L207.97,572.99 L208.91,572.99 L209.85,572.99 L210.78,572.99 L211.72,572.99 L212.66,572.98 L213.59,572.98 L214.53,572.98 L215.46,572.98 L216.40,572.97 L217.34,572.97 L218.27,572.97 L219.21,572.96 L220.15,572.96 L221.08,572.95 L222.02,572.95 L222.96,572.94 L223.89,572.93 L224.83,572.92 L225.76,572.92 L226.70,572.91 L227.64,572.89 L228.57,572.88 L229.51,572.87 L230.45,572.85 L231.38,572.83 L232.32,572.82 L233.26,572.79 L234.19,572.77 L235.13,572.75 L236.07,572.72 L237.00,572.69 L237.94,572.65 L238.87,572.61 L239.81,572.57 L240.75,572.53 L241.68,572.48 L242.62,572.42 L243.56,572.36 L244.49,572.30 L245.43,572.23 L246.37,572.15 L247.30,572.06 L248.24,571.97 L249.17,571.87 L250.11,571.76 L251.05,571.64 L251.98,571.51 L252.92,571.37 L253.86,571.22 L254.79,571.06 L255.73,570.89 L256.67,570.70 L257.60,570.49 L258.54,570.27 L259.48,570.03 L260.41,569.78 L261.35,569.50 L262.28,569.21 L263.22,568.90 L264.16,568.56 L265.09,568.20 L266.03,567.81 L266.97,567.40 L267.90,566.97 L268.84,566.50 L269.78,566.00 L270.71,565.48 L271.65,564.92 L272.58,564.33 L273.52,563.70 L274.46,563.03 L275.39,562.33 L276.33,561.59 L277.27,560.80 L278.20,559.98 L279.14,559.11 L280.08,558.19 L281.01,557.23 L281.95,556.23 L282.89,555.17 L283.82,554.06 L284.76,552.91 L285.69,551.70 L286.63,550.44 L287.57,549.13 L288.50,547.76 L289.44,546.34 L290.38,544.86 L291.31,543.33 L292.25,541.74 L293.19,540.10 L294.12,538.40 L295.06,536.65 L295.99,534.84 L296.93,532.97 L297.87,531.06 L298.80,529.09 L299.74,527.07 L300.68,525.00 L301.61,522.88 L302.55,520.71 L303.49,518.50 L304.42,516.24 L305.36,513.95 L306.30,511.61 L307.23,509.24 L308.17,506.84 L309.10,504.41 L310.04,501.95 L310.98,499.47 L311.91,496.97 L312.85,494.46 L313.79,491.94 L314.72,489.41 L315.66,486.87 L316.60,484.34 L317.53,481.82 L318.47,479.31 L319.40,476.81 L320.34,474.34 L321.28,471.89 L322.21,469.47 L323.15,467.09 L324.09,464.76 L325.02,462.47 L325.96,460.23 L326.90,458.05 L327.83,455.93 L328.77,453.87 L329.71,451.89 L330.64,449.99 L331.58,448.17 L332.51,446.43 L333.45,444.79 L334.39,443.24 L335.32,441.78 L336.26,440.43 L337.20,439.18 L338.13,438.05 L339.07,437.02 L340.01,436.11 L340.94,435.31 L341.88,434.64 L342.81,434.08 L343.75,433.65 L344.69,433.34 L345.62,433.15 L346.56,433.09 L347.50,433.15 L348.43,433.34 L349.37,433.65 L350.31,434.08 L351.24,434.64 L352.18,435.31 L353.12,436.11 L354.05,437.02 L354.99,438.05 L355.92,439.18 L356.86,440.43 L357.80,441.78 L358.73,443.24 L359.67,444.79 L360.61,446.43 L361.54,448.17 L362.48,449.99 L363.42,451.89 L364.35,453.87 L365.29,455.93 L366.22,458.05 L367.16,460.23 L368.10,462.47 L369.03,464.76 L369.97,467.09 L370.91,469.47 L371.84,471.89 L372.78,474.34 L373.72,476.81 L374.65,479.31 L375.59,481.82 L376.53,484.34 L377.46,486.87 L378.40,489.41 L379.33,491.94 L380.27,494.46 L381.21,496.97 L382.14,499.47 L383.08,501.95 L384.02,504.41 L384.95,506.84 L385.89,509.24 L386.83,511.61 L387.76,513.95 L388.70,516.24 L389.63,518.50 L390.57,520.71 L391.51,522.88 L392.44,525.00 L393.38,527.07 L394.32,529.09 L395.25,531.06 L396.19,532.97 L397.13,534.84 L398.06,536.65 L399.00,538.40 L399.94,540.10 L400.87,541.74 L401.81,543.33 L402.74,544.86 L403.68,546.34 L404.62,547.76 L405.55,549.13 L406.49,550.44 L407.43,551.70 L408.36,552.91 L409.30,554.06 L410.24,555.17 L411.17,556.23 L412.11,557.23 L413.04,558.19 L413.98,559.11 L414.92,559.98 L415.85,560.80 L416.79,561.59 L417.73,562.33 L418.66,563.03 L419.60,563.70 L420.54,564.33 L421.47,564.92 L422.41,565.48 L423.35,566.00 L424.28,566.50 L425.22,566.97 L426.15,567.40 L427.09,567.81 L428.03,568.20 L428.96,568.56 L429.90,568.90 L430.84,569.21 L431.77,569.50 L432.71,569.78 L433.65,570.03 L434.58,570.27 L435.52,570.49 L436.45,570.70 L437.39,570.89 L438.33,571.06 L439.26,571.22 L440.20,571.37 L441.14,571.51 L442.07,571.64 L443.01,571.76 L443.95,571.87 L444.88,571.97 L445.82,572.06 L446.76,572.15 L447.69,572.23 L448.63,572.30 L449.56,572.36 L450.50,572.42 L451.44,572.48 L452.37,572.53 L453.31,572.57 L454.25,572.61 L455.18,572.65 L456.12,572.69 L457.06,572.72 L457.99,572.75 L458.93,572.77 L459.86,572.79 L460.80,572.82 L461.74,572.83 L462.67,572.85 L463.61,572.87 L464.55,572.88 L465.48,572.89 L466.42,572.91 L467.36,572.92 L468.29,572.92 L469.23,572.93 L470.17,572.94 L471.10,572.95 L472.04,572.95 L472.97,572.96 L473.91,572.96 L474.85,572.97 L475.78,572.97 L476.72,572.97" fill="none" stroke="#5e81b5" stroke-width="2.6" stroke-dasharray="7 4.5"/>
<rect x="190.30" y="393.60" width="292.20" height="179.80" fill="none" stroke="#000" stroke-width="1.7"/>
<line x1="190.30" y1="573.00" x2="193.50" y2="573.00" stroke="#000" stroke-width="1.2" />
<line x1="482.50" y1="573.00" x2="479.30" y2="573.00" stroke="#000" stroke-width="1.2" />
<line x1="190.30" y1="566.17" x2="192.10" y2="566.17" stroke="#000" stroke-width="1.2" />
<line x1="482.50" y1="566.17" x2="480.70" y2="566.17" stroke="#000" stroke-width="1.2" />
<line x1="190.30" y1="559.35" x2="192.10" y2="559.35" stroke="#000" stroke-width="1.2" />
<line x1="482.50" y1="559.35" x2="480.70" y2="559.35" stroke="#000" stroke-width="1.2" />
<line x1="190.30" y1="552.52" x2="192.10" y2="552.52" stroke="#000" stroke-width="1.2" />
<line x1="482.50" y1="552.52" x2="480.70" y2="552.52" stroke="#000" stroke-width="1.2" />
<line x1="190.30" y1="545.70" x2="192.10" y2="545.70" stroke="#000" stroke-width="1.2" />
<line x1="482.50" y1="545.70" x2="480.70" y2="545.70" stroke="#000" stroke-width="1.2" />
<line x1="190.30" y1="538.88" x2="193.50" y2="538.88" stroke="#000" stroke-width="1.2" />
<line x1="482.50" y1="538.88" x2="479.30" y2="538.88" stroke="#000" stroke-width="1.2" />
<line x1="190.30" y1="532.05" x2="192.10" y2="532.05" stroke="#000" stroke-width="1.2" />
<line x1="482.50" y1="532.05" x2="480.70" y2="532.05" stroke="#000" stroke-width="1.2" />
<line x1="190.30" y1="525.23" x2="192.10" y2="525.23" stroke="#000" stroke-width="1.2" />
<line x1="482.50" y1="525.23" x2="480.70" y2="525.23" stroke="#000" stroke-width="1.2" />
<line x1="190.30" y1="518.40" x2="192.10" y2="518.40" stroke="#000" stroke-width="1.2" />
<line x1="482.50" y1="518.40" x2="480.70" y2="518.40" stroke="#000" stroke-width="1.2" />
<line x1="190.30" y1="511.57" x2="192.10" y2="511.57" stroke="#000" stroke-width="1.2" />
<line x1="482.50" y1="511.57" x2="480.70" y2="511.57" stroke="#000" stroke-width="1.2" />
<line x1="190.30" y1="504.75" x2="193.50" y2="504.75" stroke="#000" stroke-width="1.2" />
<line x1="482.50" y1="504.75" x2="479.30" y2="504.75" stroke="#000" stroke-width="1.2" />
<line x1="190.30" y1="497.93" x2="192.10" y2="497.93" stroke="#000" stroke-width="1.2" />
<line x1="482.50" y1="497.93" x2="480.70" y2="497.93" stroke="#000" stroke-width="1.2" />
<line x1="190.30" y1="491.10" x2="192.10" y2="491.10" stroke="#000" stroke-width="1.2" />
<line x1="482.50" y1="491.10" x2="480.70" y2="491.10" stroke="#000" stroke-width="1.2" />
<line x1="190.30" y1="484.27" x2="192.10" y2="484.27" stroke="#000" stroke-width="1.2" />
<line x1="482.50" y1="484.27" x2="480.70" y2="484.27" stroke="#000" stroke-width="1.2" />
<line x1="190.30" y1="477.45" x2="192.10" y2="477.45" stroke="#000" stroke-width="1.2" />
<line x1="482.50" y1="477.45" x2="480.70" y2="477.45" stroke="#000" stroke-width="1.2" />
<line x1="190.30" y1="470.62" x2="193.50" y2="470.62" stroke="#000" stroke-width="1.2" />
<line x1="482.50" y1="470.62" x2="479.30" y2="470.62" stroke="#000" stroke-width="1.2" />
<line x1="190.30" y1="463.80" x2="192.10" y2="463.80" stroke="#000" stroke-width="1.2" />
<line x1="482.50" y1="463.80" x2="480.70" y2="463.80" stroke="#000" stroke-width="1.2" />
<line x1="190.30" y1="456.98" x2="192.10" y2="456.98" stroke="#000" stroke-width="1.2" />
<line x1="482.50" y1="456.98" x2="480.70" y2="456.98" stroke="#000" stroke-width="1.2" />
<line x1="190.30" y1="450.15" x2="192.10" y2="450.15" stroke="#000" stroke-width="1.2" />
<line x1="482.50" y1="450.15" x2="480.70" y2="450.15" stroke="#000" stroke-width="1.2" />
<line x1="190.30" y1="443.32" x2="192.10" y2="443.32" stroke="#000" stroke-width="1.2" />
<line x1="482.50" y1="443.32" x2="480.70" y2="443.32" stroke="#000" stroke-width="1.2" />
<line x1="190.30" y1="436.50" x2="193.50" y2="436.50" stroke="#000" stroke-width="1.2" />
<line x1="482.50" y1="436.50" x2="479.30" y2="436.50" stroke="#000" stroke-width="1.2" />
<line x1="190.30" y1="429.67" x2="192.10" y2="429.67" stroke="#000" stroke-width="1.2" />
<line x1="482.50" y1="429.67" x2="480.70" y2="429.67" stroke="#000" stroke-width="1.2" />
<line x1="190.30" y1="422.85" x2="192.10" y2="422.85" stroke="#000" stroke-width="1.2" />
<line x1="482.50" y1="422.85" x2="480.70" y2="422.85" stroke="#000" stroke-width="1.2" />
<line x1="190.30" y1="416.02" x2="192.10" y2="416.02" stroke="#000" stroke-width="1.2" />
<line x1="482.50" y1="416.02" x2="480.70" y2="416.02" stroke="#000" stroke-width="1.2" />
<line x1="190.30" y1="409.20" x2="192.10" y2="409.20" stroke="#000" stroke-width="1.2" />
<line x1="482.50" y1="409.20" x2="480.70" y2="409.20" stroke="#000" stroke-width="1.2" />
<line x1="190.30" y1="402.38" x2="193.50" y2="402.38" stroke="#000" stroke-width="1.2" />
<line x1="482.50" y1="402.38" x2="479.30" y2="402.38" stroke="#000" stroke-width="1.2" />
<line x1="190.30" y1="395.55" x2="192.10" y2="395.55" stroke="#000" stroke-width="1.2" />
<line x1="482.50" y1="395.55" x2="480.70" y2="395.55" stroke="#000" stroke-width="1.2" />
<line x1="195.80" y1="573.40" x2="195.80" y2="570.20" stroke="#000" stroke-width="1.2" />
<line x1="195.80" y1="393.60" x2="195.80" y2="396.80" stroke="#000" stroke-width="1.2" />
<line x1="205.16" y1="573.40" x2="205.16" y2="571.60" stroke="#000" stroke-width="1.2" />
<line x1="205.16" y1="393.60" x2="205.16" y2="395.40" stroke="#000" stroke-width="1.2" />
<line x1="214.53" y1="573.40" x2="214.53" y2="571.60" stroke="#000" stroke-width="1.2" />
<line x1="214.53" y1="393.60" x2="214.53" y2="395.40" stroke="#000" stroke-width="1.2" />
<line x1="223.89" y1="573.40" x2="223.89" y2="571.60" stroke="#000" stroke-width="1.2" />
<line x1="223.89" y1="393.60" x2="223.89" y2="395.40" stroke="#000" stroke-width="1.2" />
<line x1="233.26" y1="573.40" x2="233.26" y2="571.60" stroke="#000" stroke-width="1.2" />
<line x1="233.26" y1="393.60" x2="233.26" y2="395.40" stroke="#000" stroke-width="1.2" />
<line x1="242.62" y1="573.40" x2="242.62" y2="570.20" stroke="#000" stroke-width="1.2" />
<line x1="242.62" y1="393.60" x2="242.62" y2="396.80" stroke="#000" stroke-width="1.2" />
<line x1="251.98" y1="573.40" x2="251.98" y2="571.60" stroke="#000" stroke-width="1.2" />
<line x1="251.98" y1="393.60" x2="251.98" y2="395.40" stroke="#000" stroke-width="1.2" />
<line x1="261.35" y1="573.40" x2="261.35" y2="571.60" stroke="#000" stroke-width="1.2" />
<line x1="261.35" y1="393.60" x2="261.35" y2="395.40" stroke="#000" stroke-width="1.2" />
<line x1="270.71" y1="573.40" x2="270.71" y2="571.60" stroke="#000" stroke-width="1.2" />
<line x1="270.71" y1="393.60" x2="270.71" y2="395.40" stroke="#000" stroke-width="1.2" />
<line x1="280.08" y1="573.40" x2="280.08" y2="571.60" stroke="#000" stroke-width="1.2" />
<line x1="280.08" y1="393.60" x2="280.08" y2="395.40" stroke="#000" stroke-width="1.2" />
<line x1="289.44" y1="573.40" x2="289.44" y2="570.20" stroke="#000" stroke-width="1.2" />
<line x1="289.44" y1="393.60" x2="289.44" y2="396.80" stroke="#000" stroke-width="1.2" />
<line x1="298.80" y1="573.40" x2="298.80" y2="571.60" stroke="#000" stroke-width="1.2" />
<line x1="298.80" y1="393.60" x2="298.80" y2="395.40" stroke="#000" stroke-width="1.2" />
<line x1="308.17" y1="573.40" x2="308.17" y2="571.60" stroke="#000" stroke-width="1.2" />
<line x1="308.17" y1="393.60" x2="308.17" y2="395.40" stroke="#000" stroke-width="1.2" />
<line x1="317.53" y1="573.40" x2="317.53" y2="571.60" stroke="#000" stroke-width="1.2" />
<line x1="317.53" y1="393.60" x2="317.53" y2="395.40" stroke="#000" stroke-width="1.2" />
<line x1="326.90" y1="573.40" x2="326.90" y2="571.60" stroke="#000" stroke-width="1.2" />
<line x1="326.90" y1="393.60" x2="326.90" y2="395.40" stroke="#000" stroke-width="1.2" />
<line x1="336.26" y1="573.40" x2="336.26" y2="570.20" stroke="#000" stroke-width="1.2" />
<line x1="336.26" y1="393.60" x2="336.26" y2="396.80" stroke="#000" stroke-width="1.2" />
<line x1="345.62" y1="573.40" x2="345.62" y2="571.60" stroke="#000" stroke-width="1.2" />
<line x1="345.62" y1="393.60" x2="345.62" y2="395.40" stroke="#000" stroke-width="1.2" />
<line x1="354.99" y1="573.40" x2="354.99" y2="571.60" stroke="#000" stroke-width="1.2" />
<line x1="354.99" y1="393.60" x2="354.99" y2="395.40" stroke="#000" stroke-width="1.2" />
<line x1="364.35" y1="573.40" x2="364.35" y2="571.60" stroke="#000" stroke-width="1.2" />
<line x1="364.35" y1="393.60" x2="364.35" y2="395.40" stroke="#000" stroke-width="1.2" />
<line x1="373.72" y1="573.40" x2="373.72" y2="571.60" stroke="#000" stroke-width="1.2" />
<line x1="373.72" y1="393.60" x2="373.72" y2="395.40" stroke="#000" stroke-width="1.2" />
<line x1="383.08" y1="573.40" x2="383.08" y2="570.20" stroke="#000" stroke-width="1.2" />
<line x1="383.08" y1="393.60" x2="383.08" y2="396.80" stroke="#000" stroke-width="1.2" />
<line x1="392.44" y1="573.40" x2="392.44" y2="571.60" stroke="#000" stroke-width="1.2" />
<line x1="392.44" y1="393.60" x2="392.44" y2="395.40" stroke="#000" stroke-width="1.2" />
<line x1="401.81" y1="573.40" x2="401.81" y2="571.60" stroke="#000" stroke-width="1.2" />
<line x1="401.81" y1="393.60" x2="401.81" y2="395.40" stroke="#000" stroke-width="1.2" />
<line x1="411.17" y1="573.40" x2="411.17" y2="571.60" stroke="#000" stroke-width="1.2" />
<line x1="411.17" y1="393.60" x2="411.17" y2="395.40" stroke="#000" stroke-width="1.2" />
<line x1="420.54" y1="573.40" x2="420.54" y2="571.60" stroke="#000" stroke-width="1.2" />
<line x1="420.54" y1="393.60" x2="420.54" y2="395.40" stroke="#000" stroke-width="1.2" />
<line x1="429.90" y1="573.40" x2="429.90" y2="570.20" stroke="#000" stroke-width="1.2" />
<line x1="429.90" y1="393.60" x2="429.90" y2="396.80" stroke="#000" stroke-width="1.2" />
<line x1="439.26" y1="573.40" x2="439.26" y2="571.60" stroke="#000" stroke-width="1.2" />
<line x1="439.26" y1="393.60" x2="439.26" y2="395.40" stroke="#000" stroke-width="1.2" />
<line x1="448.63" y1="573.40" x2="448.63" y2="571.60" stroke="#000" stroke-width="1.2" />
<line x1="448.63" y1="393.60" x2="448.63" y2="395.40" stroke="#000" stroke-width="1.2" />
<line x1="457.99" y1="573.40" x2="457.99" y2="571.60" stroke="#000" stroke-width="1.2" />
<line x1="457.99" y1="393.60" x2="457.99" y2="395.40" stroke="#000" stroke-width="1.2" />
<line x1="467.36" y1="573.40" x2="467.36" y2="571.60" stroke="#000" stroke-width="1.2" />
<line x1="467.36" y1="393.60" x2="467.36" y2="395.40" stroke="#000" stroke-width="1.2" />
<line x1="476.72" y1="573.40" x2="476.72" y2="570.20" stroke="#000" stroke-width="1.2" />
<line x1="476.72" y1="393.60" x2="476.72" y2="396.80" stroke="#000" stroke-width="1.2" />
<text x="169.36" y="580.99" font-size="25.00" font-family="Liberation Sans" fill="#000">0</text>
<text x="169.43" y="546.87" font-size="25.00" font-family="Liberation Sans" fill="#000">5</text>
<text x="155.49" y="512.74" font-size="25.00" font-family="Liberation Sans" fill="#000">10</text>
<text x="155.55" y="478.62" font-size="25.00" font-family="Liberation Sans" fill="#000">15</text>
<text x="155.49" y="444.49" font-size="25.00" font-family="Liberation Sans" fill="#000">20</text>
<text x="155.55" y="410.37" font-size="25.00" font-family="Liberation Sans" fill="#000">25</text>
<text x="188.83" y="598.79" font-size="25.00" font-family="Liberation Sans" fill="#000">0</text>
<text x="235.68" y="598.79" font-size="25.00" font-family="Liberation Sans" fill="#000">5</text>
<text x="275.10" y="598.79" font-size="25.00" font-family="Liberation Sans" fill="#000">10</text>
<text x="321.95" y="598.79" font-size="25.00" font-family="Liberation Sans" fill="#000">15</text>
<text x="369.05" y="598.79" font-size="25.00" font-family="Liberation Sans" fill="#000">20</text>
<text x="415.90" y="598.79" font-size="25.00" font-family="Liberation Sans" fill="#000">25</text>
<text x="462.85" y="598.79" font-size="25.00" font-family="Liberation Sans" fill="#000">30</text>
<line x1="888.90" y1="26.90" x2="888.90" y2="67.90" stroke="#b9c6e3" stroke-width="1.3" />
<line x1="885.60" y1="26.90" x2="892.20" y2="26.90" stroke="#b9c6e3" stroke-width="1.3" />
<line x1="885.60" y1="67.90" x2="892.20" y2="67.90" stroke="#b9c6e3" stroke-width="1.3" />
<line x1="930.80" y1="119.30" x2="930.80" y2="156.30" stroke="#b9c6e3" stroke-width="1.3" />
<line x1="927.50" y1="119.30" x2="934.10" y2="119.30" stroke="#b9c6e3" stroke-width="1.3" />
<line x1="927.50" y1="156.30" x2="934.10" y2="156.30" stroke="#b9c6e3" stroke-width="1.3" />
<circle cx="888.90" cy="47.30" r="6" fill="#5e81b5" />
<circle cx="930.80" cy="137.50" r="6" fill="#5e81b5" />
<circle cx="973.10" cy="170.10" r="6" fill="#5e81b5" />
<circle cx="1015.30" cy="195.50" r="6" fill="#5e81b5" />
<circle cx="1057.60" cy="220.80" r="6" fill="#5e81b5" />
<circle cx="1099.90" cy="242.10" r="6" fill="#5e81b5" />
<circle cx="1142.10" cy="252.80" r="6" fill="#5e81b5" />
<circle cx="1184.00" cy="269.90" r="6" fill="#5e81b5" />
<circle cx="1226.70" cy="275.20" r="6" fill="#5e81b5" />
<circle cx="1268.50" cy="281.30" r="6" fill="#5e81b5" />
<circle cx="1310.70" cy="288.00" r="6" fill="#5e81b5" />
<circle cx="1352.80" cy="290.10" r="6" fill="#5e81b5" />
<circle cx="1420.50" cy="296.00" r="6" fill="#5e81b5" />
<circle cx="1480.00" cy="298.10" r="6" fill="#5e81b5" />
<g clip-path="url(#clipB)">
<line x1="887.50" y1="44.70" x2="1470.50" y2="44.70" stroke="#00a9a9" stroke-width="2.8" stroke-dasharray="10.9 5.4"/>
<path d="M948.78,-78.07 L949.97,-70.30 L951.15,-62.83 L952.34,-55.63 L953.52,-48.69 L954.70,-42.00 L955.89,-35.54 L957.07,-29.31 L958.26,-23.28 L959.44,-17.46 L960.62,-11.83 L961.81,-6.38 L962.99,-1.11 L964.18,4.00 L965.36,8.96 L966.54,13.76 L967.73,18.42 L968.91,22.94 L970.10,27.34 L971.28,31.60 L972.46,35.75 L973.65,39.78 L974.83,43.70 L976.02,47.52 L977.20,51.23 L978.38,54.84 L979.57,58.37 L980.75,61.80 L981.94,65.14 L983.12,68.40 L984.30,71.58 L985.49,74.69 L986.67,77.71 L987.86,80.67 L989.04,83.56 L990.22,86.37 L991.41,89.13 L992.59,91.82 L993.78,94.45 L994.96,97.02 L996.14,99.54 L997.33,102.00 L998.51,104.41 L999.70,106.77 L1000.88,109.08 L1002.06,111.34 L1003.25,113.55 L1004.43,115.72 L1005.62,117.84 L1006.80,119.92 L1007.98,121.96 L1009.17,123.96 L1010.35,125.92 L1011.54,127.85 L1012.72,129.74 L1013.90,131.59 L1015.09,133.40 L1016.27,135.19 L1017.46,136.94 L1018.64,138.66 L1019.82,140.34 L1021.01,142.00 L1022.19,143.63 L1023.38,145.23 L1024.56,146.80 L1025.74,148.35 L1026.93,149.86 L1028.11,151.36 L1029.30,152.83 L1030.48,154.27 L1031.66,155.69 L1032.85,157.08 L1034.03,158.46 L1035.22,159.81 L1036.40,161.14 L1037.58,162.45 L1038.77,163.73 L1039.95,165.00 L1041.14,166.25 L1042.32,167.48 L1043.50,168.69 L1044.69,169.88 L1045.87,171.05 L1047.06,172.21 L1048.24,173.35 L1049.42,174.47 L1050.61,175.58 L1051.79,176.67 L1052.98,177.74 L1054.16,178.80 L1055.34,179.85 L1056.53,180.87 L1057.71,181.89 L1058.90,182.89 L1060.08,183.88 L1061.26,184.85 L1062.45,185.81 L1063.63,186.76 L1064.82,187.69 L1066.00,188.61 L1067.18,189.52 L1068.37,190.42 L1069.55,191.31 L1070.74,192.18 L1071.92,193.05 L1073.10,193.90 L1074.29,194.74 L1075.47,195.57 L1076.66,196.39 L1077.84,197.20 L1079.02,198.00 L1080.21,198.79 L1081.39,199.57 L1082.58,200.34 L1083.76,201.10 L1084.94,201.86 L1086.13,202.60 L1087.31,203.33 L1088.50,204.06 L1089.68,204.78 L1090.86,205.49 L1092.05,206.19 L1093.23,206.88 L1094.42,207.56 L1095.60,208.24 L1096.78,208.91 L1097.97,209.57 L1099.15,210.23 L1100.34,210.87 L1101.52,211.51 L1102.70,212.14 L1103.89,212.77 L1105.07,213.39 L1106.26,214.00 L1107.44,214.61 L1108.62,215.21 L1109.81,215.80 L1110.99,216.38 L1112.18,216.96 L1113.36,217.54 L1114.54,218.11 L1115.73,218.67 L1116.91,219.22 L1118.10,219.77 L1119.28,220.32 L1120.46,220.86 L1121.65,221.39 L1122.83,221.92 L1124.02,222.44 L1125.20,222.96 L1126.38,223.47 L1127.57,223.98 L1128.75,224.48 L1129.94,224.98 L1131.12,225.47 L1132.30,225.96 L1133.49,226.45 L1134.67,226.92 L1135.86,227.40 L1137.04,227.87 L1138.22,228.33 L1139.41,228.79 L1140.59,229.25 L1141.78,229.70 L1142.96,230.15 L1144.14,230.59 L1145.33,231.03 L1146.51,231.47 L1147.70,231.90 L1148.88,232.33 L1150.06,232.75 L1151.25,233.17 L1152.43,233.59 L1153.62,234.00 L1154.80,234.41 L1155.98,234.82 L1157.17,235.22 L1158.35,235.61 L1159.54,236.01 L1160.72,236.40 L1161.90,236.79 L1163.09,237.17 L1164.27,237.55 L1165.46,237.93 L1166.64,238.31 L1167.82,238.68 L1169.01,239.05 L1170.19,239.41 L1171.38,239.77 L1172.56,240.13 L1173.74,240.49 L1174.93,240.84 L1176.11,241.19 L1177.30,241.54 L1178.48,241.89 L1179.66,242.23 L1180.85,242.57 L1182.03,242.90 L1183.22,243.24 L1184.40,243.57 L1185.58,243.90 L1186.77,244.22 L1187.95,244.55 L1189.14,244.87 L1190.32,245.19 L1191.50,245.50 L1192.69,245.81 L1193.87,246.12 L1195.06,246.43 L1196.24,246.74 L1197.42,247.04 L1198.61,247.34 L1199.79,247.64 L1200.98,247.94 L1202.16,248.23 L1203.34,248.53 L1204.53,248.82 L1205.71,249.11 L1206.90,249.39 L1208.08,249.67 L1209.26,249.96 L1210.45,250.24 L1211.63,250.51 L1212.82,250.79 L1214.00,251.06 L1215.18,251.33 L1216.37,251.60 L1217.55,251.87 L1218.74,252.14 L1219.92,252.40 L1221.10,252.66 L1222.29,252.92 L1223.47,253.18 L1224.66,253.44 L1225.84,253.69 L1227.02,253.94 L1228.21,254.20 L1229.39,254.45 L1230.58,254.69 L1231.76,254.94 L1232.94,255.18 L1234.13,255.43 L1235.31,255.67 L1236.50,255.91 L1237.68,256.14 L1238.86,256.38 L1240.05,256.61 L1241.23,256.85 L1242.42,257.08 L1243.60,257.31 L1244.78,257.54 L1245.97,257.76 L1247.15,257.99 L1248.34,258.21 L1249.52,258.43 L1250.70,258.65 L1251.89,258.87 L1253.07,259.09 L1254.26,259.31 L1255.44,259.52 L1256.62,259.74 L1257.81,259.95 L1258.99,260.16 L1260.18,260.37 L1261.36,260.58 L1262.54,260.79 L1263.73,260.99 L1264.91,261.20 L1266.10,261.40 L1267.28,261.60 L1268.46,261.80 L1269.65,262.00 L1270.83,262.20 L1272.02,262.40 L1273.20,262.59 L1274.38,262.79 L1275.57,262.98 L1276.75,263.17 L1277.94,263.36 L1279.12,263.55 L1280.30,263.74 L1281.49,263.93 L1282.67,264.11 L1283.86,264.30 L1285.04,264.48 L1286.22,264.67 L1287.41,264.85 L1288.59,265.03 L1289.78,265.21 L1290.96,265.39 L1292.14,265.57 L1293.33,265.74 L1294.51,265.92 L1295.70,266.09 L1296.88,266.27 L1298.06,266.44 L1299.25,266.61 L1300.43,266.78 L1301.62,266.95 L1302.80,267.12 L1303.98,267.29 L1305.17,267.46 L1306.35,267.62 L1307.54,267.79 L1308.72,267.95 L1309.90,268.11 L1311.09,268.28 L1312.27,268.44 L1313.46,268.60 L1314.64,268.76 L1315.82,268.91 L1317.01,269.07 L1318.19,269.23 L1319.38,269.39 L1320.56,269.54 L1321.74,269.69 L1322.93,269.85 L1324.11,270.00 L1325.30,270.15 L1326.48,270.30 L1327.66,270.45 L1328.85,270.60 L1330.03,270.75 L1331.22,270.90 L1332.40,271.05 L1333.58,271.19 L1334.77,271.34 L1335.95,271.48 L1337.14,271.63 L1338.32,271.77 L1339.50,271.91 L1340.69,272.05 L1341.87,272.19 L1343.06,272.33 L1344.24,272.47 L1345.42,272.61 L1346.61,272.75 L1347.79,272.89 L1348.98,273.02 L1350.16,273.16 L1351.34,273.29 L1352.53,273.43 L1353.71,273.56 L1354.90,273.70 L1356.08,273.83 L1357.26,273.96 L1358.45,274.09 L1359.63,274.22 L1360.82,274.35 L1362.00,274.48 L1363.18,274.61 L1364.37,274.74 L1365.55,274.86 L1366.74,274.99 L1367.92,275.12 L1369.10,275.24 L1370.29,275.37 L1371.47,275.49 L1372.66,275.61 L1373.84,275.74 L1375.02,275.86 L1376.21,275.98 L1377.39,276.10 L1378.58,276.22 L1379.76,276.34 L1380.94,276.46 L1382.13,276.58 L1383.31,276.70 L1384.50,276.82 L1385.68,276.93 L1386.86,277.05 L1388.05,277.17 L1389.23,277.28 L1390.42,277.40 L1391.60,277.51 L1392.78,277.62 L1393.97,277.74 L1395.15,277.85 L1396.34,277.96 L1397.52,278.07 L1398.70,278.19 L1399.89,278.30 L1401.07,278.41 L1402.26,278.52 L1403.44,278.63 L1404.62,278.73 L1405.81,278.84 L1406.99,278.95 L1408.18,279.06 L1409.36,279.16 L1410.54,279.27 L1411.73,279.38 L1412.91,279.48 L1414.10,279.59 L1415.28,279.69 L1416.46,279.79 L1417.65,279.90 L1418.83,280.00 L1420.02,280.10 L1421.20,280.20 L1422.38,280.31 L1423.57,280.41 L1424.75,280.51 L1425.94,280.61 L1427.12,280.71 L1428.30,280.81 L1429.49,280.91 L1430.67,281.00 L1431.86,281.10 L1433.04,281.20 L1434.22,281.30 L1435.41,281.39 L1436.59,281.49 L1437.78,281.59 L1438.96,281.68 L1440.14,281.78 L1441.33,281.87 L1442.51,281.97 L1443.70,282.06 L1444.88,282.15 L1446.06,282.25 L1447.25,282.34 L1448.43,282.43 L1449.62,282.52 L1450.80,282.62 L1451.98,282.71 L1453.17,282.80 L1454.35,282.89 L1455.54,282.98 L1456.72,283.07 L1457.90,283.16 L1459.09,283.25 L1460.27,283.33 L1461.46,283.42 L1462.64,283.51 L1463.82,283.60 L1465.01,283.68 L1466.19,283.77 L1467.38,283.86 L1468.56,283.94 L1469.74,284.03 L1470.93,284.11 L1472.11,284.20 L1473.30,284.28 L1474.48,284.37 L1475.66,284.45 L1476.37,284.50" fill="none" stroke="#f3a51c" stroke-width="2.8" stroke-dasharray="10.9 5.4"/>
<path d="M888.40,44.65 L889.58,48.44 L890.77,52.13 L891.95,55.72 L893.14,59.22 L894.32,62.63 L895.50,65.95 L896.69,69.19 L897.87,72.35 L899.06,75.44 L900.24,78.45 L901.42,81.38 L902.61,84.25 L903.79,87.06 L904.98,89.80 L906.16,92.47 L907.34,95.09 L908.53,97.65 L909.71,100.15 L910.90,102.60 L912.08,104.99 L913.26,107.34 L914.45,109.64 L915.63,111.88 L916.82,114.09 L918.00,116.24 L919.18,118.36 L920.37,120.43 L921.55,122.46 L922.74,124.45 L923.92,126.40 L925.10,128.31 L926.29,130.19 L927.47,132.04 L928.66,133.84 L929.84,135.62 L931.02,137.36 L932.21,139.07 L933.39,140.75 L934.58,142.40 L935.76,144.03 L936.94,145.62 L938.13,147.18 L939.31,148.72 L940.50,150.23 L941.68,151.72 L942.86,153.18 L944.05,154.62 L945.23,156.03 L946.42,157.42 L947.60,158.79 L948.78,160.14 L949.97,161.46 L951.15,162.76 L952.34,164.05 L953.52,165.31 L954.70,166.55 L955.89,167.78 L957.07,168.98 L958.26,170.17 L959.44,171.34 L960.62,172.49 L961.81,173.63 L962.99,174.75 L964.18,175.85 L965.36,176.93 L966.54,178.00 L967.73,179.06 L968.91,180.10 L970.10,181.13 L971.28,182.14 L972.46,183.13 L973.65,184.12 L974.83,185.09 L976.02,186.04 L977.20,186.99 L978.38,187.92 L979.57,188.84 L980.75,189.75 L981.94,190.64 L983.12,191.52 L984.30,192.40 L985.49,193.26 L986.67,194.11 L987.86,194.95 L989.04,195.77 L990.22,196.59 L991.41,197.40 L992.59,198.20 L993.78,198.98 L994.96,199.76 L996.14,200.53 L997.33,201.29 L998.51,202.04 L999.70,202.78 L1000.88,203.51 L1002.06,204.24 L1003.25,204.95 L1004.43,205.66 L1005.62,206.36 L1006.80,207.05 L1007.98,207.73 L1009.17,208.41 L1010.35,209.07 L1011.54,209.73 L1012.72,210.39 L1013.90,211.03 L1015.09,211.67 L1016.27,212.30 L1017.46,212.92 L1018.64,213.54 L1019.82,214.15 L1021.01,214.75 L1022.19,215.35 L1023.38,215.94 L1024.56,216.53 L1025.74,217.11 L1026.93,217.68 L1028.11,218.24 L1029.30,218.80 L1030.48,219.36 L1031.66,219.91 L1032.85,220.45 L1034.03,220.99 L1035.22,221.52 L1036.40,222.05 L1037.58,222.57 L1038.77,223.09 L1039.95,223.60 L1041.14,224.11 L1042.32,224.61 L1043.50,225.10 L1044.69,225.59 L1045.87,226.08 L1047.06,226.56 L1048.24,227.04 L1049.42,227.51 L1050.61,227.98 L1051.79,228.45 L1052.98,228.91 L1054.16,229.36 L1055.34,229.81 L1056.53,230.26 L1057.71,230.70 L1058.90,231.14 L1060.08,231.58 L1061.26,232.01 L1062.45,232.43 L1063.63,232.86 L1064.82,233.27 L1066.00,233.69 L1067.18,234.10 L1068.37,234.51 L1069.55,234.91 L1070.74,235.31 L1071.92,235.71 L1073.10,236.11 L1074.29,236.50 L1075.47,236.88 L1076.66,237.27 L1077.84,237.65 L1079.02,238.02 L1080.21,238.40 L1081.39,238.77 L1082.58,239.14 L1083.76,239.50 L1084.94,239.86 L1086.13,240.22 L1087.31,240.58 L1088.50,240.93 L1089.68,241.28 L1090.86,241.63 L1092.05,241.97 L1093.23,242.31 L1094.42,242.65 L1095.60,242.99 L1096.78,243.32 L1097.97,243.65 L1099.15,243.98 L1100.34,244.30 L1101.52,244.63 L1102.70,244.95 L1103.89,245.26 L1105.07,245.58 L1106.26,245.89 L1107.44,246.20 L1108.62,246.51 L1109.81,246.81 L1110.99,247.12 L1112.18,247.42 L1113.36,247.72 L1114.54,248.01 L1115.73,248.31 L1116.91,248.60 L1118.10,248.89 L1119.28,249.18 L1120.46,249.46 L1121.65,249.74 L1122.83,250.03 L1124.02,250.30 L1125.20,250.58 L1126.38,250.86 L1127.57,251.13 L1128.75,251.40 L1129.94,251.67 L1131.12,251.94 L1132.30,252.20 L1133.49,252.47 L1134.67,252.73 L1135.86,252.99 L1137.04,253.24 L1138.22,253.50 L1139.41,253.75 L1140.59,254.01 L1141.78,254.26 L1142.96,254.51 L1144.14,254.75 L1145.33,255.00 L1146.51,255.24 L1147.70,255.48 L1148.88,255.73 L1150.06,255.96 L1151.25,256.20 L1152.43,256.44 L1153.62,256.67 L1154.80,256.90 L1155.98,257.13 L1157.17,257.36 L1158.35,257.59 L1159.54,257.82 L1160.72,258.04 L1161.90,258.27 L1163.09,258.49 L1164.27,258.71 L1165.46,258.93 L1166.64,259.14 L1167.82,259.36 L1169.01,259.58 L1170.19,259.79 L1171.38,260.00 L1172.56,260.21 L1173.74,260.42 L1174.93,260.63 L1176.11,260.84 L1177.30,261.04 L1178.48,261.25 L1179.66,261.45 L1180.85,261.65 L1182.03,261.85 L1183.22,262.05 L1184.40,262.25 L1185.58,262.44 L1186.77,262.64 L1187.95,262.83 L1189.14,263.03 L1190.32,263.22 L1191.50,263.41 L1192.69,263.60 L1193.87,263.79 L1195.06,263.97 L1196.24,264.16 L1197.42,264.35 L1198.61,264.53 L1199.79,264.71 L1200.98,264.89 L1202.16,265.07 L1203.34,265.25 L1204.53,265.43 L1205.71,265.61 L1206.90,265.79 L1208.08,265.96 L1209.26,266.14 L1210.45,266.31 L1211.63,266.48 L1212.82,266.65 L1214.00,266.82 L1215.18,266.99 L1216.37,267.16 L1217.55,267.33 L1218.74,267.50 L1219.92,267.66 L1221.10,267.83 L1222.29,267.99 L1223.47,268.15 L1224.66,268.31 L1225.84,268.48 L1227.02,268.64 L1228.21,268.80 L1229.39,268.95 L1230.58,269.11 L1231.76,269.27 L1232.94,269.42 L1234.13,269.58 L1235.31,269.73 L1236.50,269.89 L1237.68,270.04 L1238.86,270.19 L1240.05,270.34 L1241.23,270.49 L1242.42,270.64 L1243.60,270.79 L1244.78,270.94 L1245.97,271.08 L1247.15,271.23 L1248.34,271.37 L1249.52,271.52 L1250.70,271.66 L1251.89,271.80 L1253.07,271.95 L1254.26,272.09 L1255.44,272.23 L1256.62,272.37 L1257.81,272.51 L1258.99,272.65 L1260.18,272.78 L1261.36,272.92 L1262.54,273.06 L1263.73,273.19 L1264.91,273.33 L1266.10,273.46 L1267.28,273.60 L1268.46,273.73 L1269.65,273.86 L1270.83,273.99 L1272.02,274.12 L1273.20,274.25 L1274.38,274.38 L1275.57,274.51 L1276.75,274.64 L1277.94,274.77 L1279.12,274.90 L1280.30,275.02 L1281.49,275.15 L1282.67,275.27 L1283.86,275.40 L1285.04,275.52 L1286.22,275.64 L1287.41,275.77 L1288.59,275.89 L1289.78,276.01 L1290.96,276.13 L1292.14,276.25 L1293.33,276.37 L1294.51,276.49 L1295.70,276.61 L1296.88,276.73 L1298.06,276.85 L1299.25,276.96 L1300.43,277.08 L1301.62,277.19 L1302.80,277.31 L1303.98,277.42 L1305.17,277.54 L1306.35,277.65 L1307.54,277.77 L1308.72,277.88 L1309.90,277.99 L1311.09,278.10 L1312.27,278.21 L1313.46,278.32 L1314.64,278.43 L1315.82,278.54 L1317.01,278.65 L1318.19,278.76 L1319.38,278.87 L1320.56,278.98 L1321.74,279.08 L1322.93,279.19 L1324.11,279.30 L1325.30,279.40 L1326.48,279.51 L1327.66,279.61 L1328.85,279.72 L1330.03,279.82 L1331.22,279.92 L1332.40,280.03 L1333.58,280.13 L1334.77,280.23 L1335.95,280.33 L1337.14,280.43 L1338.32,280.53 L1339.50,280.63 L1340.69,280.73 L1341.87,280.83 L1343.06,280.93 L1344.24,281.03 L1345.42,281.13 L1346.61,281.22 L1347.79,281.32 L1348.98,281.42 L1350.16,281.51 L1351.34,281.61 L1352.53,281.71 L1353.71,281.80 L1354.90,281.90 L1356.08,281.99 L1357.26,282.08 L1358.45,282.18 L1359.63,282.27 L1360.82,282.36 L1362.00,282.45 L1363.18,282.55 L1364.37,282.64 L1365.55,282.73 L1366.74,282.82 L1367.92,282.91 L1369.10,283.00 L1370.29,283.09 L1371.47,283.18 L1372.66,283.27 L1373.84,283.36 L1375.02,283.44 L1376.21,283.53 L1377.39,283.62 L1378.58,283.71 L1379.76,283.79 L1380.94,283.88 L1382.13,283.96 L1383.31,284.05 L1384.50,284.14 L1385.68,284.22 L1386.86,284.30 L1388.05,284.39 L1389.23,284.47 L1390.42,284.56 L1391.60,284.64 L1392.78,284.72 L1393.97,284.80 L1395.15,284.89 L1396.34,284.97 L1397.52,285.05 L1398.70,285.13 L1399.89,285.21 L1401.07,285.29 L1402.26,285.37 L1403.44,285.45 L1404.62,285.53 L1405.81,285.61 L1406.99,285.69 L1408.18,285.77 L1409.36,285.85 L1410.54,285.93 L1411.73,286.00 L1412.91,286.08 L1414.10,286.16 L1415.28,286.24 L1416.46,286.31 L1417.65,286.39 L1418.83,286.46 L1420.02,286.54 L1421.20,286.62 L1422.38,286.69 L1423.57,286.77 L1424.75,286.84 L1425.94,286.91 L1427.12,286.99 L1428.30,287.06 L1429.49,287.14 L1430.67,287.21 L1431.86,287.28 L1433.04,287.35 L1434.22,287.43 L1435.41,287.50 L1436.59,287.57 L1437.78,287.64 L1438.96,287.71 L1440.14,287.78 L1441.33,287.85 L1442.51,287.93 L1443.70,288.00 L1444.88,288.07 L1446.06,288.14 L1447.25,288.20 L1448.43,288.27 L1449.62,288.34 L1450.80,288.41 L1451.98,288.48 L1453.17,288.55 L1454.35,288.62 L1455.54,288.68 L1456.72,288.75 L1457.90,288.82 L1459.09,288.89 L1460.27,288.95 L1461.46,289.02 L1462.64,289.08 L1463.82,289.15 L1465.01,289.22 L1466.19,289.28 L1467.38,289.35 L1468.56,289.41 L1469.74,289.48 L1470.93,289.54 L1472.11,289.61 L1473.30,289.67 L1474.48,289.73 L1475.66,289.80 L1476.37,289.84" fill="none" stroke="#000" stroke-width="2.8" stroke-dasharray="10.9 5.4"/>
</g>
<rect x="876.60" y="18.00" width="615.40" height="307.50" fill="none" stroke="#000" stroke-width="2.7"/>
<line x1="888.40" y1="325.50" x2="888.40" y2="321.10" stroke="#000" stroke-width="2.7" />
<line x1="888.40" y1="18.00" x2="888.40" y2="22.40" stroke="#000" stroke-width="2.7" />
<line x1="912.08" y1="325.50" x2="912.08" y2="322.00" stroke="#000" stroke-width="2.7" />
<line x1="912.08" y1="18.00" x2="912.08" y2="21.50" stroke="#000" stroke-width="2.7" />
<line x1="935.76" y1="325.50" x2="935.76" y2="322.00" stroke="#000" stroke-width="2.7" />
<line x1="935.76" y1="18.00" x2="935.76" y2="21.50" stroke="#000" stroke-width="2.7" />
<line x1="959.44" y1="325.50" x2="959.44" y2="322.00" stroke="#000" stroke-width="2.7" />
<line x1="959.44" y1="18.00" x2="959.44" y2="21.50" stroke="#000" stroke-width="2.7" />
<line x1="983.12" y1="325.50" x2="983.12" y2="322.00" stroke="#000" stroke-width="2.7" />
<line x1="983.12" y1="18.00" x2="983.12" y2="21.50" stroke="#000" stroke-width="2.7" />
<line x1="1006.80" y1="325.50" x2="1006.80" y2="321.10" stroke="#000" stroke-width="2.7" />
<line x1="1006.80" y1="18.00" x2="1006.80" y2="22.40" stroke="#000" stroke-width="2.7" />
<line x1="1030.48" y1="325.50" x2="1030.48" y2="322.00" stroke="#000" stroke-width="2.7" />
<line x1="1030.48" y1="18.00" x2="1030.48" y2="21.50" stroke="#000" stroke-width="2.7" />
<line x1="1054.16" y1="325.50" x2="1054.16" y2="322.00" stroke="#000" stroke-width="2.7" />
<line x1="1054.16" y1="18.00" x2="1054.16" y2="21.50" stroke="#000" stroke-width="2.7" />
<line x1="1077.84" y1="325.50" x2="1077.84" y2="322.00" stroke="#000" stroke-width="2.7" />
<line x1="1077.84" y1="18.00" x2="1077.84" y2="21.50" stroke="#000" stroke-width="2.7" />
<line x1="1101.52" y1="325.50" x2="1101.52" y2="322.00" stroke="#000" stroke-width="2.7" />
<line x1="1101.52" y1="18.00" x2="1101.52" y2="21.50" stroke="#000" stroke-width="2.7" />
<line x1="1125.20" y1="325.50" x2="1125.20" y2="321.10" stroke="#000" stroke-width="2.7" />
<line x1="1125.20" y1="18.00" x2="1125.20" y2="22.40" stroke="#000" stroke-width="2.7" />
<line x1="1148.88" y1="325.50" x2="1148.88" y2="322.00" stroke="#000" stroke-width="2.7" />
<line x1="1148.88" y1="18.00" x2="1148.88" y2="21.50" stroke="#000" stroke-width="2.7" />
<line x1="1172.56" y1="325.50" x2="1172.56" y2="322.00" stroke="#000" stroke-width="2.7" />
<line x1="1172.56" y1="18.00" x2="1172.56" y2="21.50" stroke="#000" stroke-width="2.7" />
<line x1="1196.24" y1="325.50" x2="1196.24" y2="322.00" stroke="#000" stroke-width="2.7" />
<line x1="1196.24" y1="18.00" x2="1196.24" y2="21.50" stroke="#000" stroke-width="2.7" />
<line x1="1219.92" y1="325.50" x2="1219.92" y2="322.00" stroke="#000" stroke-width="2.7" />
<line x1="1219.92" y1="18.00" x2="1219.92" y2="21.50" stroke="#000" stroke-width="2.7" />
<line x1="1243.60" y1="325.50" x2="1243.60" y2="321.10" stroke="#000" stroke-width="2.7" />
<line x1="1243.60" y1="18.00" x2="1243.60" y2="22.40" stroke="#000" stroke-width="2.7" />
<line x1="1267.28" y1="325.50" x2="1267.28" y2="322.00" stroke="#000" stroke-width="2.7" />
<line x1="1267.28" y1="18.00" x2="1267.28" y2="21.50" stroke="#000" stroke-width="2.7" />
<line x1="1290.96" y1="325.50" x2="1290.96" y2="322.00" stroke="#000" stroke-width="2.7" />
<line x1="1290.96" y1="18.00" x2="1290.96" y2="21.50" stroke="#000" stroke-width="2.7" />
<line x1="1314.64" y1="325.50" x2="1314.64" y2="322.00" stroke="#000" stroke-width="2.7" />
<line x1="1314.64" y1="18.00" x2="1314.64" y2="21.50" stroke="#000" stroke-width="2.7" />
<line x1="1338.32" y1="325.50" x2="1338.32" y2="322.00" stroke="#000" stroke-width="2.7" />
<line x1="1338.32" y1="18.00" x2="1338.32" y2="21.50" stroke="#000" stroke-width="2.7" />
<line x1="1362.00" y1="325.50" x2="1362.00" y2="321.10" stroke="#000" stroke-width="2.7" />
<line x1="1362.00" y1="18.00" x2="1362.00" y2="22.40" stroke="#000" stroke-width="2.7" />
<line x1="1385.68" y1="325.50" x2="1385.68" y2="322.00" stroke="#000" stroke-width="2.7" />
<line x1="1385.68" y1="18.00" x2="1385.68" y2="21.50" stroke="#000" stroke-width="2.7" />
<line x1="1409.36" y1="325.50" x2="1409.36" y2="322.00" stroke="#000" stroke-width="2.7" />
<line x1="1409.36" y1="18.00" x2="1409.36" y2="21.50" stroke="#000" stroke-width="2.7" />
<line x1="1433.04" y1="325.50" x2="1433.04" y2="322.00" stroke="#000" stroke-width="2.7" />
<line x1="1433.04" y1="18.00" x2="1433.04" y2="21.50" stroke="#000" stroke-width="2.7" />
<line x1="1456.72" y1="325.50" x2="1456.72" y2="322.00" stroke="#000" stroke-width="2.7" />
<line x1="1456.72" y1="18.00" x2="1456.72" y2="21.50" stroke="#000" stroke-width="2.7" />
<line x1="1480.40" y1="325.50" x2="1480.40" y2="321.10" stroke="#000" stroke-width="2.7" />
<line x1="1480.40" y1="18.00" x2="1480.40" y2="22.40" stroke="#000" stroke-width="2.7" />
<line x1="876.60" y1="313.66" x2="880.10" y2="313.66" stroke="#000" stroke-width="2.7" />
<line x1="1492.00" y1="313.66" x2="1488.50" y2="313.66" stroke="#000" stroke-width="2.7" />
<line x1="876.60" y1="301.32" x2="880.10" y2="301.32" stroke="#000" stroke-width="2.7" />
<line x1="1492.00" y1="301.32" x2="1488.50" y2="301.32" stroke="#000" stroke-width="2.7" />
<line x1="876.60" y1="288.98" x2="880.10" y2="288.98" stroke="#000" stroke-width="2.7" />
<line x1="1492.00" y1="288.98" x2="1488.50" y2="288.98" stroke="#000" stroke-width="2.7" />
<line x1="876.60" y1="276.64" x2="880.10" y2="276.64" stroke="#000" stroke-width="2.7" />
<line x1="1492.00" y1="276.64" x2="1488.50" y2="276.64" stroke="#000" stroke-width="2.7" />
<line x1="876.60" y1="264.30" x2="881.00" y2="264.30" stroke="#000" stroke-width="2.7" />
<line x1="1492.00" y1="264.30" x2="1487.60" y2="264.30" stroke="#000" stroke-width="2.7" />
<line x1="876.60" y1="251.96" x2="880.10" y2="251.96" stroke="#000" stroke-width="2.7" />
<line x1="1492.00" y1="251.96" x2="1488.50" y2="251.96" stroke="#000" stroke-width="2.7" />
<line x1="876.60" y1="239.62" x2="880.10" y2="239.62" stroke="#000" stroke-width="2.7" />
<line x1="1492.00" y1="239.62" x2="1488.50" y2="239.62" stroke="#000" stroke-width="2.7" />
<line x1="876.60" y1="227.28" x2="880.10" y2="227.28" stroke="#000" stroke-width="2.7" />
<line x1="1492.00" y1="227.28" x2="1488.50" y2="227.28" stroke="#000" stroke-width="2.7" />
<line x1="876.60" y1="214.94" x2="880.10" y2="214.94" stroke="#000" stroke-width="2.7" />
<line x1="1492.00" y1="214.94" x2="1488.50" y2="214.94" stroke="#000" stroke-width="2.7" />
<line x1="876.60" y1="202.60" x2="881.00" y2="202.60" stroke="#000" stroke-width="2.7" />
<line x1="1492.00" y1="202.60" x2="1487.60" y2="202.60" stroke="#000" stroke-width="2.7" />
<line x1="876.60" y1="190.26" x2="880.10" y2="190.26" stroke="#000" stroke-width="2.7" />
<line x1="1492.00" y1="190.26" x2="1488.50" y2="190.26" stroke="#000" stroke-width="2.7" />
<line x1="876.60" y1="177.92" x2="880.10" y2="177.92" stroke="#000" stroke-width="2.7" />
<line x1="1492.00" y1="177.92" x2="1488.50" y2="177.92" stroke="#000" stroke-width="2.7" />
<line x1="876.60" y1="165.58" x2="880.10" y2="165.58" stroke="#000" stroke-width="2.7" />
<line x1="1492.00" y1="165.58" x2="1488.50" y2="165.58" stroke="#000" stroke-width="2.7" />
<line x1="876.60" y1="153.24" x2="880.10" y2="153.24" stroke="#000" stroke-width="2.7" />
<line x1="1492.00" y1="153.24" x2="1488.50" y2="153.24" stroke="#000" stroke-width="2.7" />
<line x1="876.60" y1="140.90" x2="881.00" y2="140.90" stroke="#000" stroke-width="2.7" />
<line x1="1492.00" y1="140.90" x2="1487.60" y2="140.90" stroke="#000" stroke-width="2.7" />
<line x1="876.60" y1="128.56" x2="880.10" y2="128.56" stroke="#000" stroke-width="2.7" />
<line x1="1492.00" y1="128.56" x2="1488.50" y2="128.56" stroke="#000" stroke-width="2.7" />
<line x1="876.60" y1="116.22" x2="880.10" y2="116.22" stroke="#000" stroke-width="2.7" />
<line x1="1492.00" y1="116.22" x2="1488.50" y2="116.22" stroke="#000" stroke-width="2.7" />
<line x1="876.60" y1="103.88" x2="880.10" y2="103.88" stroke="#000" stroke-width="2.7" />
<line x1="1492.00" y1="103.88" x2="1488.50" y2="103.88" stroke="#000" stroke-width="2.7" />
<line x1="876.60" y1="91.54" x2="880.10" y2="91.54" stroke="#000" stroke-width="2.7" />
<line x1="1492.00" y1="91.54" x2="1488.50" y2="91.54" stroke="#000" stroke-width="2.7" />
<line x1="876.60" y1="79.20" x2="881.00" y2="79.20" stroke="#000" stroke-width="2.7" />
<line x1="1492.00" y1="79.20" x2="1487.60" y2="79.20" stroke="#000" stroke-width="2.7" />
<line x1="876.60" y1="66.86" x2="880.10" y2="66.86" stroke="#000" stroke-width="2.7" />
<line x1="1492.00" y1="66.86" x2="1488.50" y2="66.86" stroke="#000" stroke-width="2.7" />
<line x1="876.60" y1="54.52" x2="880.10" y2="54.52" stroke="#000" stroke-width="2.7" />
<line x1="1492.00" y1="54.52" x2="1488.50" y2="54.52" stroke="#000" stroke-width="2.7" />
<line x1="876.60" y1="42.18" x2="880.10" y2="42.18" stroke="#000" stroke-width="2.7" />
<line x1="1492.00" y1="42.18" x2="1488.50" y2="42.18" stroke="#000" stroke-width="2.7" />
<line x1="876.60" y1="29.84" x2="880.10" y2="29.84" stroke="#000" stroke-width="2.7" />
<line x1="1492.00" y1="29.84" x2="1488.50" y2="29.84" stroke="#000" stroke-width="2.7" />
<text transform="translate(844.82,278.39) scale(0.9700,1)" font-size="34.00" font-family="Liberation Sans" fill="#000">5</text>
<text transform="translate(830.63,216.69) scale(0.9700,1)" font-size="34.00" font-family="Liberation Sans" fill="#000">10</text>
<text transform="translate(830.71,154.99) scale(0.9700,1)" font-size="34.00" font-family="Liberation Sans" fill="#000">15</text>
<text transform="translate(830.63,93.29) scale(0.9700,1)" font-size="34.00" font-family="Liberation Sans" fill="#000">20</text>
<text transform="translate(830.71,31.59) scale(0.9700,1)" font-size="34.00" font-family="Liberation Sans" fill="#000">25</text>
<text transform="translate(775.23,29.06) scale(0.9779,1)" font-size="43.54" font-family="Liberation Sans" font-weight="bold" fill="#000">b</text>
<line x1="886.80" y1="440.40" x2="886.80" y2="469.80" stroke="#9fb3da" stroke-width="1.2" />
<line x1="883.50" y1="440.40" x2="890.10" y2="440.40" stroke="#9fb3da" stroke-width="1.2" />
<line x1="883.50" y1="469.80" x2="890.10" y2="469.80" stroke="#9fb3da" stroke-width="1.2" />
<line x1="1035.10" y1="403.40" x2="1035.10" y2="438.30" stroke="#9fb3da" stroke-width="1.2" />
<line x1="1031.80" y1="403.40" x2="1038.40" y2="403.40" stroke="#9fb3da" stroke-width="1.2" />
<line x1="1031.80" y1="438.30" x2="1038.40" y2="438.30" stroke="#9fb3da" stroke-width="1.2" />
<line x1="1183.30" y1="406.80" x2="1183.30" y2="443.80" stroke="#9fb3da" stroke-width="1.2" />
<line x1="1180.00" y1="406.80" x2="1186.60" y2="406.80" stroke="#9fb3da" stroke-width="1.2" />
<line x1="1180.00" y1="443.80" x2="1186.60" y2="443.80" stroke="#9fb3da" stroke-width="1.2" />
<line x1="1331.60" y1="436.20" x2="1331.60" y2="462.20" stroke="#9fb3da" stroke-width="1.2" />
<line x1="1328.30" y1="436.20" x2="1334.90" y2="436.20" stroke="#9fb3da" stroke-width="1.2" />
<line x1="1328.30" y1="462.20" x2="1334.90" y2="462.20" stroke="#9fb3da" stroke-width="1.2" />
<line x1="1479.80" y1="438.30" x2="1479.80" y2="485.80" stroke="#9fb3da" stroke-width="1.2" />
<line x1="1476.50" y1="438.30" x2="1483.10" y2="438.30" stroke="#9fb3da" stroke-width="1.2" />
<line x1="1476.50" y1="485.80" x2="1483.10" y2="485.80" stroke="#9fb3da" stroke-width="1.2" />
<circle cx="886.80" cy="455.10" r="6" fill="#5e81b5" />
<circle cx="1035.10" cy="420.70" r="6" fill="#5e81b5" />
<circle cx="1183.30" cy="424.90" r="6" fill="#5e81b5" />
<circle cx="1331.60" cy="449.60" r="6" fill="#5e81b5" />
<circle cx="1479.80" cy="461.40" r="6" fill="#5e81b5" />
<line x1="885.80" y1="442.10" x2="1491.00" y2="442.10" stroke="#00a9a9" stroke-width="2.8" stroke-dasharray="10.9 5.4"/>
<rect x="875.70" y="343.60" width="616.30" height="307.90" fill="none" stroke="#000" stroke-width="2.7"/>
<line x1="886.70" y1="651.50" x2="886.70" y2="647.10" stroke="#000" stroke-width="2.7" />
<line x1="910.45" y1="651.50" x2="910.45" y2="648.00" stroke="#000" stroke-width="2.7" />
<line x1="934.20" y1="651.50" x2="934.20" y2="648.00" stroke="#000" stroke-width="2.7" />
<line x1="957.95" y1="651.50" x2="957.95" y2="648.00" stroke="#000" stroke-width="2.7" />
<line x1="981.70" y1="651.50" x2="981.70" y2="648.00" stroke="#000" stroke-width="2.7" />
<line x1="1005.45" y1="651.50" x2="1005.45" y2="647.10" stroke="#000" stroke-width="2.7" />
<line x1="1029.20" y1="651.50" x2="1029.20" y2="648.00" stroke="#000" stroke-width="2.7" />
<line x1="1052.95" y1="651.50" x2="1052.95" y2="648.00" stroke="#000" stroke-width="2.7" />
<line x1="1076.70" y1="651.50" x2="1076.70" y2="648.00" stroke="#000" stroke-width="2.7" />
<line x1="1100.45" y1="651.50" x2="1100.45" y2="648.00" stroke="#000" stroke-width="2.7" />
<line x1="1124.20" y1="651.50" x2="1124.20" y2="647.10" stroke="#000" stroke-width="2.7" />
<line x1="1147.95" y1="651.50" x2="1147.95" y2="648.00" stroke="#000" stroke-width="2.7" />
<line x1="1171.70" y1="651.50" x2="1171.70" y2="648.00" stroke="#000" stroke-width="2.7" />
<line x1="1195.45" y1="651.50" x2="1195.45" y2="648.00" stroke="#000" stroke-width="2.7" />
<line x1="1219.20" y1="651.50" x2="1219.20" y2="648.00" stroke="#000" stroke-width="2.7" />
<line x1="1242.95" y1="651.50" x2="1242.95" y2="647.10" stroke="#000" stroke-width="2.7" />
<line x1="1266.70" y1="651.50" x2="1266.70" y2="648.00" stroke="#000" stroke-width="2.7" />
<line x1="1290.45" y1="651.50" x2="1290.45" y2="648.00" stroke="#000" stroke-width="2.7" />
<line x1="1314.20" y1="651.50" x2="1314.20" y2="648.00" stroke="#000" stroke-width="2.7" />
<line x1="1337.95" y1="651.50" x2="1337.95" y2="648.00" stroke="#000" stroke-width="2.7" />
<line x1="1361.70" y1="651.50" x2="1361.70" y2="647.10" stroke="#000" stroke-width="2.7" />
<line x1="1385.45" y1="651.50" x2="1385.45" y2="648.00" stroke="#000" stroke-width="2.7" />
<line x1="1409.20" y1="651.50" x2="1409.20" y2="648.00" stroke="#000" stroke-width="2.7" />
<line x1="1432.95" y1="651.50" x2="1432.95" y2="648.00" stroke="#000" stroke-width="2.7" />
<line x1="1456.70" y1="651.50" x2="1456.70" y2="648.00" stroke="#000" stroke-width="2.7" />
<line x1="1480.45" y1="651.50" x2="1480.45" y2="647.10" stroke="#000" stroke-width="2.7" />
<line x1="875.70" y1="636.10" x2="879.20" y2="636.10" stroke="#000" stroke-width="2.7" />
<line x1="875.70" y1="620.70" x2="879.20" y2="620.70" stroke="#000" stroke-width="2.7" />
<line x1="875.70" y1="605.30" x2="879.20" y2="605.30" stroke="#000" stroke-width="2.7" />
<line x1="875.70" y1="589.90" x2="879.20" y2="589.90" stroke="#000" stroke-width="2.7" />
<line x1="875.70" y1="574.50" x2="880.10" y2="574.50" stroke="#000" stroke-width="2.7" />
<line x1="875.70" y1="559.10" x2="879.20" y2="559.10" stroke="#000" stroke-width="2.7" />
<line x1="875.70" y1="543.70" x2="879.20" y2="543.70" stroke="#000" stroke-width="2.7" />
<line x1="875.70" y1="528.30" x2="879.20" y2="528.30" stroke="#000" stroke-width="2.7" />
<line x1="875.70" y1="512.90" x2="879.20" y2="512.90" stroke="#000" stroke-width="2.7" />
<line x1="875.70" y1="497.50" x2="880.10" y2="497.50" stroke="#000" stroke-width="2.7" />
<line x1="875.70" y1="482.10" x2="879.20" y2="482.10" stroke="#000" stroke-width="2.7" />
<line x1="875.70" y1="466.70" x2="879.20" y2="466.70" stroke="#000" stroke-width="2.7" />
<line x1="875.70" y1="451.30" x2="879.20" y2="451.30" stroke="#000" stroke-width="2.7" />
<line x1="875.70" y1="435.90" x2="879.20" y2="435.90" stroke="#000" stroke-width="2.7" />
<line x1="875.70" y1="420.50" x2="880.10" y2="420.50" stroke="#000" stroke-width="2.7" />
<line x1="875.70" y1="405.10" x2="879.20" y2="405.10" stroke="#000" stroke-width="2.7" />
<line x1="875.70" y1="389.70" x2="879.20" y2="389.70" stroke="#000" stroke-width="2.7" />
<line x1="875.70" y1="374.30" x2="879.20" y2="374.30" stroke="#000" stroke-width="2.7" />
<line x1="875.70" y1="358.90" x2="879.20" y2="358.90" stroke="#000" stroke-width="2.7" />
<text transform="translate(844.63,665.49) scale(0.9700,1)" font-size="34.00" font-family="Liberation Sans" fill="#000">0</text>
<text transform="translate(844.72,588.49) scale(0.9700,1)" font-size="34.00" font-family="Liberation Sans" fill="#000">5</text>
<text transform="translate(830.63,511.49) scale(0.9700,1)" font-size="34.00" font-family="Liberation Sans" fill="#000">10</text>
<text transform="translate(830.71,434.49) scale(0.9700,1)" font-size="34.00" font-family="Liberation Sans" fill="#000">15</text>
<text transform="translate(830.63,357.49) scale(0.9700,1)" font-size="34.00" font-family="Liberation Sans" fill="#000">20</text>
<text transform="translate(863.74,689.69) scale(0.9700,1)" font-size="34.00" font-family="Liberation Sans" fill="#000">0.0</text>
<text transform="translate(982.65,689.69) scale(0.9700,1)" font-size="34.00" font-family="Liberation Sans" fill="#000">0.1</text>
<text transform="translate(1101.44,689.69) scale(0.9700,1)" font-size="34.00" font-family="Liberation Sans" fill="#000">0.2</text>
<text transform="translate(1220.07,689.69) scale(0.9700,1)" font-size="34.00" font-family="Liberation Sans" fill="#000">0.3</text>
<text transform="translate(1338.57,689.69) scale(0.9700,1)" font-size="34.00" font-family="Liberation Sans" fill="#000">0.4</text>
<text transform="translate(1457.53,689.69) scale(0.9700,1)" font-size="34.00" font-family="Liberation Sans" fill="#000">0.5</text>
<text transform="translate(775.22,358.09) scale(1.0278,1)" font-size="40.91" font-family="Liberation Sans" font-weight="bold" fill="#000">c</text>
<text transform="translate(363.30,731.59) scale(1.0989,1)" font-size="40.64" font-family="Liberation Serif" font-style="italic" fill="#000">τ</text>
<text transform="translate(395.27,731.63) scale(0.8445,1)" font-size="45.51" font-family="Liberation Serif" fill="#000">(</text>
<text transform="translate(408.40,733.44) scale(1.0011,1)" font-size="44.44" font-family="Liberation Serif" font-style="italic" fill="#000">μ</text>
<text transform="translate(429.63,731.40) scale(1.1449,1)" font-size="40.00" font-family="Liberation Serif" font-style="italic" fill="#000">s</text>
<text transform="translate(446.40,731.63) scale(0.8107,1)" font-size="45.51" font-family="Liberation Serif" fill="#000">)</text>
<path d="M-1.00,180.60 L20.10,172.10 L40.30,180.10" fill="none" stroke="#000" stroke-width="1.6" stroke-linejoin="miter"/>
<path d="M-1.00,241.00 L20.10,249.30 L40.30,241.20" fill="none" stroke="#000" stroke-width="1.6" stroke-linejoin="miter"/>
<text transform="translate(32.15,236.94) rotate(-90) scale(0.9306,1)" font-size="41.17" font-family="Liberation Serif" font-style="italic" fill="#000">ρ</text>
<text transform="translate(43.96,217.70) rotate(-90) scale(1.0241,1)" font-size="23.70" font-family="Liberation Serif" font-style="italic" fill="#000">p01</text>
<text transform="translate(395.50,173.12) rotate(-90) scale(1.1545,1)" font-size="34.96" font-family="Liberation Serif" font-style="italic" fill="#000">T</text>
<text transform="translate(405.90,149.46) rotate(-90) scale(0.9740,1)" font-size="19.24" font-family="Liberation Serif" font-style="italic" fill="#000">1</text>
<text transform="translate(395.64,128.59) rotate(-90) scale(1.0048,1)" font-size="37.47" font-family="Liberation Serif" fill="#000">(</text>
<text transform="translate(396.20,117.00) rotate(-90) scale(0.9046,1)" font-size="37.66" font-family="Liberation Serif" font-style="italic" fill="#000">μs</text>
<text transform="translate(395.64,87.23) rotate(-90) scale(0.7670,1)" font-size="37.47" font-family="Liberation Serif" fill="#000">)</text>
<text transform="translate(532.55,242.90) scale(0.9828,1)" font-size="35.77" font-family="Liberation Serif" font-style="italic" fill="#000">φ</text>
<text transform="translate(550.68,251.71) scale(1.0508,1)" font-size="19.48" font-family="Liberation Serif" fill="#000">ext</text>
<line x1="577.6" y1="249.2" x2="590.4" y2="216.8" stroke="#000" stroke-width="1.4" stroke-linecap="round"/>
<text transform="translate(591.42,241.40) scale(1.1366,1)" font-size="30.79" font-family="Liberation Serif" fill="#000">2</text>
<text transform="translate(606.96,240.70) scale(1.1832,1)" font-size="30.43" font-family="Liberation Serif" fill="#000">π</text>
<text transform="translate(145.43,546.73) rotate(-90) scale(0.9722,1)" font-size="36.52" font-family="Liberation Serif" fill="#000">counts</text>
<text transform="translate(300.80,630.10) scale(1.1909,1)" font-size="33.59" font-family="Liberation Serif" font-style="italic" fill="#000">T</text>
<text transform="translate(324.21,640.80) scale(1.0507,1)" font-size="18.64" font-family="Liberation Serif" font-style="italic" fill="#000">1</text>
<text transform="translate(344.78,630.90) scale(0.9191,1)" font-size="36.69" font-family="Liberation Serif" fill="#000">(</text>
<text transform="translate(356.50,631.68) scale(1.1196,1)" font-size="34.96" font-family="Liberation Serif" font-style="italic" fill="#000">μ</text>
<text transform="translate(374.81,629.80) scale(1.0459,1)" font-size="30.21" font-family="Liberation Serif" font-style="italic" fill="#000">s</text>
<text transform="translate(386.15,630.90) scale(0.7938,1)" font-size="36.69" font-family="Liberation Serif" fill="#000">)</text>
<text transform="translate(814.10,243.11) rotate(-90) scale(1.1909,1)" font-size="42.75" font-family="Liberation Serif" font-style="italic" fill="#000">T</text>
<text transform="translate(828.00,215.26) rotate(-90) scale(1.0848,1)" font-size="25.81" font-family="Liberation Serif" fill="#000">2</text>
<text transform="translate(814.22,187.47) rotate(-90) scale(1.2182,1)" font-size="45.07" font-family="Liberation Serif" fill="#000">(</text>
<text transform="translate(815.70,171.00) rotate(-90) scale(0.9750,1)" font-size="42.34" font-family="Liberation Serif" font-style="italic" fill="#000">μs</text>
<text transform="translate(814.22,135.62) rotate(-90) scale(0.8358,1)" font-size="45.07" font-family="Liberation Serif" fill="#000">)</text>
<text transform="translate(814.10,561.41) rotate(-90) scale(1.1909,1)" font-size="42.75" font-family="Liberation Serif" font-style="italic" fill="#000">T</text>
<text transform="translate(828.00,533.56) rotate(-90) scale(1.0848,1)" font-size="25.81" font-family="Liberation Serif" fill="#000">2</text>
<text transform="translate(814.22,505.77) rotate(-90) scale(1.2182,1)" font-size="45.07" font-family="Liberation Serif" fill="#000">(</text>
<text transform="translate(815.70,489.30) rotate(-90) scale(0.9750,1)" font-size="42.34" font-family="Liberation Serif" font-style="italic" fill="#000">μs</text>
<text transform="translate(814.22,453.92) rotate(-90) scale(0.8358,1)" font-size="45.07" font-family="Liberation Serif" fill="#000">)</text>
<text transform="translate(889.69,299.10) scale(1.1212,1)" font-size="42.14" font-family="Liberation Serif" font-style="italic" fill="#000">E</text>
<text transform="translate(916.00,312.85) scale(1.0668,1)" font-size="25.26" font-family="Liberation Serif" font-style="italic" fill="#000">J</text>
<line x1="928.4" y1="308.60" x2="950.2" y2="268.70" stroke="#000" stroke-width="1.4" stroke-linecap="round"/>
<text transform="translate(949.19,299.10) scale(1.1212,1)" font-size="42.14" font-family="Liberation Serif" font-style="italic" fill="#000">E</text>
<text transform="translate(976.64,312.70) scale(1.0983,1)" font-size="25.04" font-family="Liberation Serif" font-style="italic" fill="#000">L</text>
<rect x="993.5" y="283.70" width="28.6" height="1.6" fill="#000"/>
<rect x="993.5" y="291.90" width="28.6" height="1.6" fill="#000"/>
<text transform="translate(1034.93,299.50) scale(0.9808,1)" font-size="42.26" font-family="Liberation Serif" fill="#000">21</text>
<text transform="translate(889.69,625.40) scale(1.1212,1)" font-size="42.14" font-family="Liberation Serif" font-style="italic" fill="#000">E</text>
<text transform="translate(916.00,639.15) scale(1.0668,1)" font-size="25.26" font-family="Liberation Serif" font-style="italic" fill="#000">J</text>
<line x1="928.4" y1="634.90" x2="950.2" y2="595.00" stroke="#000" stroke-width="1.4" stroke-linecap="round"/>
<text transform="translate(949.19,625.40) scale(1.1212,1)" font-size="42.14" font-family="Liberation Serif" font-style="italic" fill="#000">E</text>
<text transform="translate(976.64,639.00) scale(1.0983,1)" font-size="25.04" font-family="Liberation Serif" font-style="italic" fill="#000">L</text>
<rect x="993.5" y="610.00" width="28.6" height="1.6" fill="#000"/>
<rect x="993.5" y="618.20" width="28.6" height="1.6" fill="#000"/>
<text transform="translate(1034.47,626.18) scale(1.0058,1)" font-size="42.08" font-family="Liberation Serif" fill="#000">53</text>
<rect x="1181.1" y="582.6" width="10.80" height="3" fill="#00a9a9"/>
<rect x="1181.1" y="619.0" width="10.80" height="3" fill="#f3a51c"/>
<rect x="1197.4" y="582.6" width="10.60" height="3" fill="#00a9a9"/>
<rect x="1197.4" y="619.0" width="10.60" height="3" fill="#f3a51c"/>
<rect x="1213.9" y="582.6" width="11.00" height="3" fill="#00a9a9"/>
<rect x="1213.9" y="619.0" width="11.00" height="3" fill="#f3a51c"/>
<text transform="translate(1239.37,597.29) scale(1.0420,1)" font-size="34.14" font-family="Liberation Serif" fill="#000">const.</text>
<text transform="translate(1333.67,596.65) scale(1.1014,1)" font-size="31.87" font-family="Liberation Serif" fill="#000">dephasing</text>
<text transform="translate(1239.60,633.00) scale(0.9650,1)" font-size="34.39" font-family="Liberation Serif" fill="#000">1</text>
<line x1="1258.5" y1="639.7" x2="1270.5" y2="608.7" stroke="#000" stroke-width="1.4" stroke-linecap="round"/>
<text transform="translate(1271.27,632.40) scale(1.3045,1)" font-size="32.48" font-family="Liberation Serif" font-style="italic" fill="#000">f</text>
<text transform="translate(1293.42,632.67) scale(1.1047,1)" font-size="32.62" font-family="Liberation Serif" fill="#000">Flux</text>
<text transform="translate(1370.04,633.25) scale(0.9789,1)" font-size="34.65" font-family="Liberation Serif" fill="#000">noise</text>
<text transform="translate(1135.58,732.92) scale(1.0043,1)" font-size="43.65" font-family="Liberation Serif" font-style="italic" fill="#000">φ</text>
<text transform="translate(1157.95,746.21) scale(0.9171,1)" font-size="28.52" font-family="Liberation Serif" fill="#000">ext</text>
<line x1="1193.4" y1="739.9" x2="1208.3" y2="701.0" stroke="#000" stroke-width="1.4" stroke-linecap="round"/>
<text transform="translate(1210.95,731.40) scale(0.9806,1)" font-size="41.81" font-family="Liberation Serif" fill="#000">2</text>
<text transform="translate(1231.71,731.40) scale(0.9686,1)" font-size="40.43" font-family="Liberation Serif" fill="#000">π</text>
<path d="M1169.70,81.39 L1169.94,79.48 L1170.19,77.74 L1170.43,76.17 L1170.67,74.79 L1170.91,73.59 L1171.16,72.59 L1171.40,71.78 L1171.64,71.17 L1171.89,70.76 L1172.13,70.55 L1172.37,70.54 L1172.62,70.72 L1172.86,71.11 L1173.10,71.68 L1173.35,72.45 L1173.59,73.41 L1173.83,74.55 L1174.07,75.87 L1174.32,77.35 L1174.56,79.00 L1174.80,80.81 L1175.05,82.77 L1175.29,84.87 L1175.53,87.10 L1175.78,89.44 L1176.02,91.90 L1176.26,94.47 L1176.50,97.12 L1176.75,99.84 L1176.99,102.64 L1177.23,105.49 L1177.48,108.38 L1177.72,111.31 L1177.96,114.25 L1178.21,117.21 L1178.45,120.15 L1178.69,123.08 L1178.93,125.99 L1179.18,128.85 L1179.42,131.66 L1179.66,134.40 L1179.91,137.07 L1180.15,139.66 L1180.39,142.15 L1180.63,144.54 L1180.88,146.82 L1181.12,148.97 L1181.36,150.99 L1181.61,152.87 L1181.85,154.61 L1182.09,156.20 L1182.34,157.63 L1182.58,158.89 L1182.82,159.99 L1183.07,160.92 L1183.31,161.67 L1183.55,162.25 L1183.79,162.65 L1184.04,162.87 L1184.28,162.92 L1184.52,162.78 L1184.77,162.47 L1185.01,161.99 L1185.25,161.33 L1185.50,160.50 L1185.74,159.51 L1185.98,158.36 L1186.22,157.06 L1186.47,155.61 L1186.71,154.02 L1186.95,152.29 L1187.20,150.44 L1187.44,148.47 L1187.68,146.38 L1187.92,144.20 L1188.17,141.93 L1188.41,139.57 L1188.65,137.14 L1188.90,134.65 L1189.14,132.11 L1189.38,129.53 L1189.63,126.92 L1189.87,124.29 L1190.11,121.65 L1190.36,119.01 L1190.60,116.39 L1190.84,113.79 L1191.08,111.22 L1191.33,108.70 L1191.57,106.23 L1191.81,103.83 L1192.06,101.50 L1192.30,99.26 L1192.54,97.10 L1192.79,95.05 L1193.03,93.11 L1193.27,91.28 L1193.51,89.57 L1193.76,87.99 L1194.00,86.55 L1194.24,85.25 L1194.49,84.09 L1194.73,83.08 L1194.97,82.22 L1195.22,81.52 L1195.46,80.97 L1195.70,80.58 L1195.94,80.36 L1196.19,80.29 L1196.43,80.38 L1196.67,80.63 L1196.92,81.04 L1197.16,81.60 L1197.40,82.31 L1197.64,83.17 L1197.89,84.17 L1198.13,85.31 L1198.37,86.59 L1198.62,87.99 L1198.86,89.51 L1199.10,91.15 L1199.35,92.89 L1199.59,94.74 L1199.83,96.67 L1200.08,98.69 L1200.32,100.79 L1200.56,102.95 L1200.80,105.17 L1201.05,107.43 L1201.29,109.73 L1201.53,112.07 L1201.78,114.42 L1202.02,116.78 L1202.26,119.14 L1202.51,121.48 L1202.75,123.81 L1202.99,126.11 L1203.23,128.38 L1203.48,130.59 L1203.72,132.75 L1203.96,134.85 L1204.21,136.87 L1204.45,138.81 L1204.69,140.66 L1204.93,142.42 L1205.18,144.07 L1205.42,145.62 L1205.66,147.05 L1205.91,148.36 L1206.15,149.55 L1206.39,150.61 L1206.64,151.54 L1206.88,152.33 L1207.12,152.98 L1207.37,153.50 L1207.61,153.87 L1207.85,154.10 L1208.09,154.18 L1208.34,154.13 L1208.58,153.93 L1208.82,153.59 L1209.07,153.12 L1209.31,152.50 L1209.55,151.76 L1209.80,150.88 L1210.04,149.89 L1210.28,148.77 L1210.52,147.53 L1210.77,146.19 L1211.01,144.74 L1211.25,143.20 L1211.50,141.57 L1211.74,139.85 L1211.98,138.06 L1212.23,136.20 L1212.47,134.27 L1212.71,132.30 L1212.95,130.28 L1213.20,128.23 L1213.44,126.15 L1213.68,124.05 L1213.93,121.94 L1214.17,119.83 L1214.41,117.72 L1214.65,115.64 L1214.90,113.57 L1215.14,111.54 L1215.38,109.56 L1215.63,107.61 L1215.87,105.73 L1216.11,103.91 L1216.36,102.16 L1216.60,100.49 L1216.84,98.90 L1217.09,97.41 L1217.33,96.01 L1217.57,94.71 L1217.81,93.51 L1218.06,92.43 L1218.30,91.46 L1218.54,90.61 L1218.79,89.88 L1219.03,89.27 L1219.27,88.79 L1219.52,88.44 L1219.76,88.21 L1220.00,88.11 L1220.24,88.14 L1220.49,88.29 L1220.73,88.57 L1220.97,88.98 L1221.22,89.50 L1221.46,90.15 L1221.70,90.91 L1221.95,91.78 L1222.19,92.76 L1222.43,93.85 L1222.67,95.03 L1222.92,96.31 L1223.16,97.67 L1223.40,99.12 L1223.65,100.64 L1223.89,102.23 L1224.13,103.89 L1224.38,105.60 L1224.62,107.35 L1224.86,109.15 L1225.10,110.98 L1225.35,112.84 L1225.59,114.72 L1225.83,116.60 L1226.08,118.49 L1226.32,120.37 L1226.56,122.24 L1226.81,124.09 L1227.05,125.91 L1227.29,127.70 L1227.53,129.44 L1227.78,131.14 L1228.02,132.77 L1228.26,134.35 L1228.51,135.86 L1228.75,137.29 L1228.99,138.64 L1229.24,139.91 L1229.48,141.09 L1229.72,142.18 L1229.96,143.16 L1230.21,144.05 L1230.45,144.83 L1230.69,145.50 L1230.94,146.06 L1231.18,146.51 L1231.42,146.85 L1231.66,147.07 L1231.91,147.18 L1232.15,147.18 L1232.39,147.06 L1232.64,146.83 L1232.88,146.49 L1233.12,146.04 L1233.37,145.48 L1233.61,144.82 L1233.85,144.06 L1234.10,143.20 L1234.34,142.24 L1234.58,141.20 L1234.82,140.07 L1235.07,138.87 L1235.31,137.59 L1235.55,136.24 L1235.80,134.82 L1236.04,133.35 L1236.28,131.83 L1236.53,130.27 L1236.77,128.67 L1237.01,127.03 L1237.25,125.38 L1237.50,123.70 L1237.74,122.02 L1237.98,120.33 L1238.23,118.64 L1238.47,116.97 L1238.71,115.31 L1238.96,113.68 L1239.20,112.08 L1239.44,110.51 L1239.68,108.99 L1239.93,107.51 L1240.17,106.09 L1240.41,104.73 L1240.66,103.44 L1240.90,102.21 L1241.14,101.07 L1241.38,100.00 L1241.63,99.01 L1241.87,98.11 L1242.11,97.31 L1242.36,96.59 L1242.60,95.97 L1242.84,95.45 L1243.09,95.03 L1243.33,94.71 L1243.57,94.49 L1243.82,94.37 L1244.06,94.36 L1244.30,94.45 L1244.54,94.63 L1244.79,94.92 L1245.03,95.31 L1245.27,95.79 L1245.52,96.36 L1245.76,97.03 L1246.00,97.78 L1246.25,98.62 L1246.49,99.54 L1246.73,100.54 L1246.97,101.60 L1247.22,102.74 L1247.46,103.93 L1247.70,105.19 L1247.95,106.49 L1248.19,107.85 L1248.43,109.24 L1248.67,110.66 L1248.92,112.12 L1249.16,113.60 L1249.40,115.09 L1249.65,116.60 L1249.89,118.11 L1250.13,119.62 L1250.38,121.12 L1250.62,122.60 L1250.86,124.07 L1251.11,125.50 L1251.35,126.91 L1251.59,128.28 L1251.83,129.61 L1252.08,130.89 L1252.32,132.11 L1252.56,133.28 L1252.81,134.39 L1253.05,135.43 L1253.29,136.40 L1253.54,137.29 L1253.78,138.11 L1254.02,138.84 L1254.26,139.50 L1254.51,140.07 L1254.75,140.55 L1254.99,140.94 L1255.24,141.24 L1255.48,141.46 L1255.72,141.58 L1255.97,141.61 L1256.21,141.55 L1256.45,141.39 L1256.69,141.15 L1256.94,140.82 L1257.18,140.41 L1257.42,139.91 L1257.67,139.33 L1257.91,138.67 L1258.15,137.93 L1258.39,137.12 L1258.64,136.24 L1258.88,135.30 L1259.12,134.30 L1259.37,133.24 L1259.61,132.13 L1259.85,130.97 L1260.10,129.76 L1260.34,128.52 L1260.58,127.25 L1260.83,125.96 L1261.07,124.64 L1261.31,123.30 L1261.55,121.96 L1261.80,120.61 L1262.04,119.26 L1262.28,117.92 L1262.53,116.59 L1262.77,115.27 L1263.01,113.98 L1263.26,112.72 L1263.50,111.49 L1263.74,110.29 L1263.98,109.14 L1264.23,108.04 L1264.47,106.98 L1264.71,105.98 L1264.96,105.04 L1265.20,104.16 L1265.44,103.35 L1265.68,102.61 L1265.93,101.94 L1266.17,101.34 L1266.41,100.81 L1266.66,100.37 L1266.90,100.00 L1267.14,99.72 L1267.39,99.51 L1267.63,99.39 L1267.87,99.35 L1268.12,99.39 L1268.36,99.51 L1268.60,99.71 L1268.84,99.99 L1269.09,100.35 L1269.33,100.79 L1269.57,101.29 L1269.82,101.87 L1270.06,102.52 L1270.30,103.23 L1270.55,104.00 L1270.79,104.84 L1271.03,105.72 L1271.27,106.66 L1271.52,107.65 L1271.76,108.68 L1272.00,109.75 L1272.25,110.85 L1272.49,111.98 L1272.73,113.14 L1272.98,114.31 L1273.22,115.50 L1273.46,116.71 L1273.70,117.91 L1273.95,119.12 L1274.19,120.32 L1274.43,121.51 L1274.68,122.69 L1274.92,123.85 L1275.16,124.99 L1275.40,126.09 L1275.65,127.17 L1275.89,128.20 L1276.13,129.20 L1276.38,130.15 L1276.62,131.05 L1276.86,131.90 L1277.11,132.70 L1277.35,133.44 L1277.59,134.11 L1277.84,134.72 L1278.08,135.27 L1278.32,135.75 L1278.56,136.16 L1278.81,136.50 L1279.05,136.77 L1279.29,136.97 L1279.54,137.09 L1279.78,137.14 L1280.02,137.12 L1280.27,137.02 L1280.51,136.85 L1280.75,136.61 L1280.99,136.31 L1281.24,135.93 L1281.48,135.49 L1281.72,134.98 L1281.97,134.42 L1282.21,133.79 L1282.45,133.11 L1282.70,132.37 L1282.94,131.59 L1283.18,130.76 L1283.42,129.88 L1283.67,128.97 L1283.91,128.02 L1284.15,127.04 L1284.40,126.03 L1284.64,125.00 L1284.88,123.95 L1285.12,122.89 L1285.37,121.81 L1285.61,120.73 L1285.85,119.66 L1286.10,118.58 L1286.34,117.51 L1286.58,116.46 L1286.83,115.42 L1287.07,114.40 L1287.31,113.40 L1287.56,112.44 L1287.80,111.50 L1288.04,110.61 L1288.28,109.75 L1288.53,108.93 L1288.77,108.16 L1289.01,107.44 L1289.26,106.77 L1289.50,106.16 L1289.74,105.60 L1289.99,105.10 L1290.23,104.66 L1290.47,104.28 L1290.71,103.97 L1290.96,103.72 L1291.20,103.53 L1291.44,103.41 L1291.69,103.35 L1291.93,103.36 L1292.17,103.43 L1292.41,103.57 L1292.66,103.77 L1292.90,104.04 L1293.14,104.36 L1293.39,104.75 L1293.63,105.19 L1293.87,105.69 L1294.12,106.24 L1294.36,106.84 L1294.60,107.49 L1294.85,108.18 L1295.09,108.92 L1295.33,109.69 L1295.57,110.51 L1295.82,111.35 L1296.06,112.22 L1296.30,113.12 L1296.55,114.04 L1296.79,114.97 L1297.03,115.92 L1297.28,116.88 L1297.52,117.84 L1297.76,118.81 L1298.00,119.77 L1298.25,120.73 L1298.49,121.67 L1298.73,122.61 L1298.98,123.52 L1299.22,124.42 L1299.46,125.28 L1299.70,126.12 L1299.95,126.93 L1300.19,127.71 L1300.43,128.44 L1300.68,129.14 L1300.92,129.79 L1301.16,130.40 L1301.41,130.96 L1301.65,131.46 L1301.89,131.92 L1302.13,132.32 L1302.38,132.67 L1302.62,132.96 L1302.86,133.20 L1303.11,133.38 L1303.35,133.50 L1303.59,133.56 L1303.84,133.56 L1304.08,133.50 L1304.32,133.39 L1304.57,133.22 L1304.81,132.99 L1305.05,132.71 L1305.29,132.38 L1305.54,131.99 L1305.78,131.56 L1306.02,131.07 L1306.27,130.54 L1306.51,129.97 L1306.75,129.36 L1307.00,128.70 L1307.24,128.02 L1307.48,127.30 L1307.72,126.55 L1307.97,125.77 L1308.21,124.97 L1308.45,124.16 L1308.70,123.32 L1308.94,122.48 L1309.18,121.62 L1309.43,120.76 L1309.67,119.89 L1309.91,119.03 L1310.15,118.18 L1310.40,117.33 L1310.64,116.49 L1310.88,115.67 L1311.13,114.87 L1311.37,114.09 L1311.61,113.33 L1311.86,112.60 L1312.10,111.90 L1312.34,111.24 L1312.58,110.61 L1312.83,110.02 L1313.07,109.47 L1313.31,108.96 L1313.56,108.50 L1313.80,108.08 L1314.04,107.71 L1314.29,107.39 L1314.53,107.12 L1314.77,106.90 L1315.01,106.74 L1315.26,106.62 L1315.50,106.56 L1315.74,106.54 L1315.99,106.58 L1316.23,106.68 L1316.47,106.82 L1316.72,107.01 L1316.96,107.26 L1317.20,107.55 L1317.44,107.88 L1317.69,108.27 L1317.93,108.69 L1318.17,109.16 L1318.42,109.66 L1318.66,110.21 L1318.90,110.78 L1319.14,111.39 L1319.39,112.03 L1319.63,112.70 L1319.87,113.39 L1320.12,114.10 L1320.36,114.83 L1320.60,115.57 L1320.85,116.32 L1321.09,117.09 L1321.33,117.86 L1321.58,118.63 L1321.82,119.40 L1322.06,120.17 L1322.30,120.93 L1322.55,121.68 L1322.79,122.41 L1323.03,123.14 L1323.28,123.84 L1323.52,124.52 L1323.76,125.17 L1324.01,125.80 L1324.25,126.40 L1324.49,126.97 L1324.73,127.51 L1324.98,128.00 L1325.22,128.46 L1325.46,128.89 L1325.71,129.27 L1325.95,129.60 L1326.19,129.90 L1326.43,130.15 L1326.68,130.35 L1326.92,130.51 L1327.16,130.62 L1327.41,130.69 L1327.65,130.71 L1327.89,130.68 L1328.14,130.61 L1328.38,130.49 L1328.62,130.32 L1328.87,130.11 L1329.11,129.86 L1329.35,129.57 L1329.59,129.23 L1329.84,128.86 L1330.08,128.45 L1330.32,128.00 L1330.57,127.52 L1330.81,127.01 L1331.05,126.47 L1331.30,125.90 L1331.54,125.31 L1331.78,124.70 L1332.02,124.07 L1332.27,123.42 L1332.51,122.76 L1332.75,122.08 L1333.00,121.40 L1333.24,120.71 L1333.48,120.02 L1333.73,119.33 L1333.97,118.65 L1334.21,117.97 L1334.45,117.29 L1334.70,116.63 L1334.94,115.98 L1335.18,115.35 L1335.43,114.74 L1335.67,114.15 L1335.91,113.58 L1336.15,113.04 L1336.40,112.53 L1336.64,112.05 L1336.88,111.59 L1337.13,111.18 L1337.37,110.79 L1337.61,110.45 L1337.86,110.14 L1338.10,109.87 L1338.34,109.64 L1338.59,109.45 L1338.83,109.30 L1339.07,109.19 L1339.31,109.12 L1339.56,109.10 L1339.80,109.12 L1340.04,109.17 L1340.29,109.27 L1340.53,109.41 L1340.77,109.59 L1341.02,109.81 L1341.26,110.07 L1341.50,110.36 L1341.74,110.69 L1341.99,111.05 L1342.23,111.44 L1342.47,111.87 L1342.72,112.32 L1342.96,112.80 L1343.20,113.30 L1343.45,113.83 L1343.69,114.37 L1343.93,114.93 L1344.17,115.51 L1344.42,116.10 L1344.66,116.70 L1344.90,117.31 L1345.15,117.92 L1345.39,118.54 L1345.63,119.16 L1345.88,119.77 L1346.12,120.38 L1346.36,120.99 L1346.60,121.58 L1346.85,122.16 L1347.09,122.73 L1347.33,123.28 L1347.58,123.81 L1347.82,124.32 L1348.06,124.81 L1348.31,125.27 L1348.55,125.71 L1348.79,126.12 L1349.03,126.50 L1349.28,126.85 L1349.52,127.16 L1349.76,127.45 L1350.01,127.69 L1350.25,127.91 L1350.49,128.08 L1350.74,128.22 L1350.98,128.33 L1351.22,128.39 L1351.46,128.42 L1351.71,128.41 L1351.95,128.37 L1352.19,128.28 L1352.44,128.17 L1352.68,128.01 L1352.92,127.82 L1353.16,127.60 L1353.41,127.34 L1353.65,127.06 L1353.89,126.74 L1354.14,126.39 L1354.38,126.02 L1354.62,125.62 L1354.87,125.19 L1355.11,124.75 L1355.35,124.28 L1355.60,123.80 L1355.84,123.30 L1356.08,122.78 L1356.32,122.26 L1356.57,121.72 L1356.81,121.18 L1357.05,120.63 L1357.30,120.08 L1357.54,119.53 L1357.78,118.98 L1358.03,118.43 L1358.27,117.89 L1358.51,117.36 L1358.75,116.83 L1359.00,116.32 L1359.24,115.83 L1359.48,115.35 L1359.73,114.89 L1359.97,114.45 L1360.21,114.03 L1360.46,113.64 L1360.70,113.26 L1360.94,112.92 L1361.18,112.60 L1361.43,112.32 L1361.67,112.06 L1361.91,111.83 L1362.16,111.63 L1362.40,111.47 L1362.64,111.34 L1362.88,111.24 L1363.13,111.18 L1363.37,111.15 L1363.61,111.15 L1363.86,111.18 L1364.10,111.25 L1364.34,111.35 L1364.59,111.48 L1364.83,111.65 L1365.07,111.84 L1365.32,112.06 L1365.56,112.32 L1365.80,112.60 L1366.04,112.90 L1366.29,113.23 L1366.53,113.59 L1366.77,113.96 L1367.02,114.36 L1367.26,114.77 L1367.50,115.20 L1367.75,115.64 L1367.99,116.10 L1368.23,116.57 L1368.47,117.05 L1368.72,117.53 L1368.96,118.02 L1369.20,118.52 L1369.45,119.01 L1369.69,119.50 L1369.93,119.99 L1370.18,120.48 L1370.42,120.95 L1370.66,121.42 L1370.90,121.88 L1371.15,122.33 L1371.39,122.76 L1371.63,123.17 L1371.88,123.57 L1372.12,123.95 L1372.36,124.30 L1372.61,124.64 L1372.85,124.95 L1373.09,125.24 L1373.33,125.50 L1373.58,125.74 L1373.82,125.94 L1374.06,126.13 L1374.31,126.28 L1374.55,126.40 L1374.79,126.49 L1375.04,126.56 L1375.28,126.59 L1375.52,126.59 L1375.76,126.57 L1376.01,126.51 L1376.25,126.43 L1376.49,126.31 L1376.74,126.17 L1376.98,126.00 L1377.22,125.81 L1377.47,125.59 L1377.71,125.34 L1377.95,125.07 L1378.19,124.78 L1378.44,124.47 L1378.68,124.14 L1378.92,123.79 L1379.17,123.42 L1379.41,123.04 L1379.65,122.64 L1379.89,122.23 L1380.14,121.82 L1380.38,121.39 L1380.62,120.96 L1380.87,120.52 L1381.11,120.08 L1381.35,119.64 L1381.60,119.20 L1381.84,118.76 L1382.08,118.33 L1382.33,117.90 L1382.57,117.48 L1382.81,117.07 L1383.05,116.67 L1383.30,116.28 L1383.54,115.90 L1383.78,115.55 L1384.03,115.20 L1384.27,114.88 L1384.51,114.58 L1384.76,114.30 L1385.00,114.03 L1385.24,113.80 L1385.48,113.58 L1385.73,113.39 L1385.97,113.22 L1386.21,113.08 L1386.46,112.97 L1386.70,112.88 L1386.94,112.82 L1387.18,112.78 L1387.43,112.78 L1387.67,112.80 L1387.91,112.84 L1388.16,112.91 L1388.40,113.01 L1388.64,113.13 L1388.89,113.28 L1389.13,113.45 L1389.37,113.64 L1389.62,113.86 L1389.86,114.09 L1390.10,114.35 L1390.34,114.63 L1390.59,114.92 L1390.83,115.23 L1391.07,115.56 L1391.32,115.90 L1391.56,116.25 L1391.80,116.61 L1392.05,116.98 L1392.29,117.36 L1392.53,117.75 L1392.77,118.14 L1393.02,118.53 L1393.26,118.93 L1393.50,119.32 L1393.75,119.71 L1393.99,120.10 L1394.23,120.49 L1394.48,120.86 L1394.72,121.23 L1394.96,121.59 L1395.20,121.94 L1395.45,122.28 L1395.69,122.60 L1395.93,122.91 L1396.18,123.20 L1396.42,123.47 L1396.66,123.73 L1396.90,123.97 L1397.15,124.19 L1397.39,124.38 L1397.63,124.56 L1397.88,124.71 L1398.12,124.84 L1398.36,124.94 L1398.61,125.03 L1398.85,125.09 L1399.09,125.12 L1399.34,125.13 L1399.58,125.12 L1399.82,125.09 L1400.06,125.03 L1400.31,124.94 L1400.55,124.84 L1400.79,124.71 L1401.04,124.56 L1401.28,124.39 L1401.52,124.20 L1401.77,124.00 L1402.01,123.77 L1402.25,123.53 L1402.49,123.27 L1402.74,122.99 L1402.98,122.70 L1403.22,122.40 L1403.47,122.09 L1403.71,121.76 L1403.95,121.43 L1404.20,121.10 L1404.44,120.75 L1404.68,120.40 L1404.92,120.05 L1405.17,119.70 L1405.41,119.35 L1405.65,118.99 L1405.90,118.65 L1406.14,118.30 L1406.38,117.96 L1406.62,117.63 L1406.87,117.31 L1407.11,116.99 L1407.35,116.69 L1407.60,116.40 L1407.84,116.12 L1408.08,115.86 L1408.33,115.61 L1408.57,115.38 L1408.81,115.16 L1409.06,114.96 L1409.30,114.79 L1409.54,114.63 L1409.78,114.49 L1410.03,114.37 L1410.27,114.27 L1410.51,114.19 L1410.76,114.13 L1411.00,114.10 L1411.24,114.08 L1411.49,114.09 L1411.73,114.12 L1411.97,114.17 L1412.21,114.24 L1412.46,114.33 L1412.70,114.44 L1412.94,114.57 L1413.19,114.72 L1413.43,114.88 L1413.67,115.07 L1413.91,115.27 L1414.16,115.48 L1414.40,115.71 L1414.64,115.95 L1414.89,116.21 L1415.13,116.48 L1415.37,116.76 L1415.62,117.04 L1415.86,117.34 L1416.10,117.64 L1416.35,117.95 L1416.59,118.26 L1416.83,118.57 L1417.07,118.89 L1417.32,119.20 L1417.56,119.52 L1417.80,119.83 L1418.05,120.14 L1418.29,120.44 L1418.53,120.74 L1418.78,121.03 L1419.02,121.31 L1419.26,121.59 L1419.50,121.85 L1419.75,122.10 L1419.99,122.34 L1420.23,122.56 L1420.48,122.77 L1420.72,122.97 L1420.96,123.15 L1421.21,123.31 L1421.45,123.46 L1421.69,123.58 L1421.93,123.69 L1422.18,123.79 L1422.42,123.86 L1422.66,123.91 L1422.91,123.95 L1423.15,123.96 L1423.39,123.96 L1423.63,123.94 L1423.88,123.90 L1424.12,123.84 L1424.36,123.76 L1424.61,123.67 L1424.85,123.55 L1425.09,123.42 L1425.34,123.28 L1425.58,123.12 L1425.82,122.94 L1426.07,122.75 L1426.31,122.55 L1426.55,122.33 L1426.79,122.10 L1427.04,121.87 L1427.28,121.62 L1427.52,121.36 L1427.77,121.10 L1428.01,120.83 L1428.25,120.56 L1428.50,120.28 L1428.74,120.00 L1428.98,119.72 L1429.22,119.44 L1429.47,119.16 L1429.71,118.88 L1429.95,118.60 L1430.20,118.33 L1430.44,118.06 L1430.68,117.80 L1430.93,117.55 L1431.17,117.30 L1431.41,117.06 L1431.65,116.84 L1431.90,116.62 L1432.14,116.42 L1432.38,116.23 L1432.63,116.05 L1432.87,115.89 L1433.11,115.74 L1433.36,115.61 L1433.60,115.49 L1433.84,115.39 L1434.08,115.30 L1434.33,115.23 L1434.57,115.18 L1434.81,115.15 L1435.06,115.13 L1435.30,115.13 L1435.54,115.15 L1435.79,115.18 L1436.03,115.23 L1436.27,115.30 L1436.51,115.38 L1436.76,115.48 L1437.00,115.59 L1437.24,115.72 L1437.49,115.86 L1437.73,116.02 L1437.97,116.18 L1438.22,116.36 L1438.46,116.55 L1438.70,116.76 L1438.94,116.97 L1439.19,117.19 L1439.43,117.41 L1439.67,117.65 L1439.92,117.88 L1440.16,118.13 L1440.40,118.38 L1440.64,118.63 L1440.89,118.88 L1441.13,119.13 L1441.37,119.38 L1441.62,119.63 L1441.86,119.88 L1442.10,120.13 L1442.35,120.37 L1442.59,120.60 L1442.83,120.83 L1443.08,121.05 L1443.32,121.26 L1443.56,121.47 L1443.80,121.66 L1444.05,121.84 L1444.29,122.02 L1444.53,122.18 L1444.78,122.33 L1445.02,122.46 L1445.26,122.58 L1445.51,122.69 L1445.75,122.78 L1445.99,122.86 L1446.23,122.93 L1446.48,122.97 L1446.72,123.01 L1446.96,123.03 L1447.21,123.03 L1447.45,123.02 L1447.69,122.99 L1447.93,122.95 L1448.18,122.89 L1448.42,122.82 L1448.66,122.74 L1448.91,122.64 L1449.15,122.52 L1449.39,122.40 L1449.64,122.26 L1449.88,122.12 L1450.12,121.96 L1450.37,121.79 L1450.61,121.61 L1450.85,121.42 L1451.09,121.23 L1451.34,121.03 L1451.58,120.82 L1451.82,120.60 L1452.07,120.39 L1452.31,120.17 L1452.55,119.94 L1452.80,119.72 L1453.04,119.49 L1453.28,119.27 L1453.52,119.04 L1453.77,118.82 L1454.01,118.60 L1454.25,118.38 L1454.50,118.17 L1454.74,117.97 L1454.98,117.77 L1455.23,117.58 L1455.47,117.39 L1455.71,117.22 L1455.95,117.05 L1456.20,116.90 L1456.44,116.75 L1456.68,116.62 L1456.93,116.49 L1457.17,116.38 L1457.41,116.28 L1457.66,116.20 L1457.90,116.13 L1458.14,116.07 L1458.38,116.02 L1458.63,115.99 L1458.87,115.97 L1459.11,115.96 L1459.36,115.97 L1459.60,115.99 L1459.84,116.03 L1460.09,116.08 L1460.33,116.14 L1460.57,116.21 L1460.81,116.30 L1461.06,116.40 L1461.30,116.51" fill="none" stroke="#e01c1c" stroke-width="2.0" />
<circle cx="1169.30" cy="119.40" r="2.0" fill="#5e81b5" stroke="#2a4468" stroke-width="0.6"/>
<circle cx="1172.20" cy="71.10" r="2.0" fill="#5e81b5" stroke="#2a4468" stroke-width="0.6"/>
<circle cx="1175.10" cy="97.18" r="2.0" fill="#5e81b5" stroke="#2a4468" stroke-width="0.6"/>
<circle cx="1178.00" cy="131.96" r="2.0" fill="#5e81b5" stroke="#2a4468" stroke-width="0.6"/>
<circle cx="1181.06" cy="155.95" r="2.0" fill="#5e81b5" stroke="#2a4468" stroke-width="0.6"/>
<circle cx="1183.79" cy="157.40" r="2.0" fill="#5e81b5" stroke="#2a4468" stroke-width="0.6"/>
<circle cx="1186.69" cy="137.76" r="2.0" fill="#5e81b5" stroke="#2a4468" stroke-width="0.6"/>
<circle cx="1189.91" cy="107.49" r="2.0" fill="#5e81b5" stroke="#2a4468" stroke-width="0.6"/>
<circle cx="1192.81" cy="83.98" r="2.0" fill="#5e81b5" stroke="#2a4468" stroke-width="0.6"/>
<circle cx="1195.87" cy="80.28" r="2.0" fill="#5e81b5" stroke="#2a4468" stroke-width="0.6"/>
<circle cx="1198.93" cy="93.96" r="2.0" fill="#5e81b5" stroke="#2a4468" stroke-width="0.6"/>
<circle cx="1201.83" cy="121.33" r="2.0" fill="#5e81b5" stroke="#2a4468" stroke-width="0.6"/>
<circle cx="1204.72" cy="144.52" r="2.0" fill="#5e81b5" stroke="#2a4468" stroke-width="0.6"/>
<circle cx="1207.62" cy="151.92" r="2.0" fill="#5e81b5" stroke="#2a4468" stroke-width="0.6"/>
<circle cx="1210.52" cy="141.46" r="2.0" fill="#5e81b5" stroke="#2a4468" stroke-width="0.6"/>
<circle cx="1213.58" cy="117.79" r="2.0" fill="#5e81b5" stroke="#2a4468" stroke-width="0.6"/>
<circle cx="1216.64" cy="97.18" r="2.0" fill="#5e81b5" stroke="#2a4468" stroke-width="0.6"/>
<circle cx="1219.38" cy="87.20" r="2.0" fill="#5e81b5" stroke="#2a4468" stroke-width="0.6"/>
<circle cx="1222.43" cy="95.25" r="2.0" fill="#5e81b5" stroke="#2a4468" stroke-width="0.6"/>
<circle cx="1225.33" cy="113.93" r="2.0" fill="#5e81b5" stroke="#2a4468" stroke-width="0.6"/>
<circle cx="1228.23" cy="134.86" r="2.0" fill="#5e81b5" stroke="#2a4468" stroke-width="0.6"/>
<circle cx="1231.13" cy="145.32" r="2.0" fill="#5e81b5" stroke="#2a4468" stroke-width="0.6"/>
<circle cx="1234.19" cy="139.53" r="2.0" fill="#5e81b5" stroke="#2a4468" stroke-width="0.6"/>
<circle cx="1237.09" cy="123.10" r="2.0" fill="#5e81b5" stroke="#2a4468" stroke-width="0.6"/>
<circle cx="1239.98" cy="105.23" r="2.0" fill="#5e81b5" stroke="#2a4468" stroke-width="0.6"/>
<circle cx="1243.04" cy="96.38" r="2.0" fill="#5e81b5" stroke="#2a4468" stroke-width="0.6"/>
<circle cx="1245.94" cy="96.86" r="2.0" fill="#5e81b5" stroke="#2a4468" stroke-width="0.6"/>
<circle cx="1249.00" cy="110.87" r="2.0" fill="#5e81b5" stroke="#2a4468" stroke-width="0.6"/>
<circle cx="1251.90" cy="126.65" r="2.0" fill="#5e81b5" stroke="#2a4468" stroke-width="0.6"/>
<circle cx="1254.64" cy="136.79" r="2.0" fill="#5e81b5" stroke="#2a4468" stroke-width="0.6"/>
<circle cx="1257.69" cy="135.50" r="2.0" fill="#5e81b5" stroke="#2a4468" stroke-width="0.6"/>
<circle cx="1260.75" cy="124.55" r="2.0" fill="#5e81b5" stroke="#2a4468" stroke-width="0.6"/>
<circle cx="1263.65" cy="111.83" r="2.0" fill="#5e81b5" stroke="#2a4468" stroke-width="0.6"/>
<circle cx="1266.55" cy="103.78" r="2.0" fill="#5e81b5" stroke="#2a4468" stroke-width="0.6"/>
<circle cx="1269.45" cy="102.98" r="2.0" fill="#5e81b5" stroke="#2a4468" stroke-width="0.6"/>
<circle cx="1272.35" cy="110.06" r="2.0" fill="#5e81b5" stroke="#2a4468" stroke-width="0.6"/>
<circle cx="1275.57" cy="121.98" r="2.0" fill="#5e81b5" stroke="#2a4468" stroke-width="0.6"/>
<circle cx="1278.46" cy="133.09" r="2.0" fill="#5e81b5" stroke="#2a4468" stroke-width="0.6"/>
<circle cx="1281.20" cy="132.44" r="2.0" fill="#5e81b5" stroke="#2a4468" stroke-width="0.6"/>
<circle cx="1284.42" cy="124.23" r="2.0" fill="#5e81b5" stroke="#2a4468" stroke-width="0.6"/>
<circle cx="1287.16" cy="114.57" r="2.0" fill="#5e81b5" stroke="#2a4468" stroke-width="0.6"/>
<circle cx="1290.22" cy="106.20" r="2.0" fill="#5e81b5" stroke="#2a4468" stroke-width="0.6"/>
<circle cx="1293.12" cy="106.04" r="2.0" fill="#5e81b5" stroke="#2a4468" stroke-width="0.6"/>
<circle cx="1296.01" cy="112.16" r="2.0" fill="#5e81b5" stroke="#2a4468" stroke-width="0.6"/>
<circle cx="1299.07" cy="121.33" r="2.0" fill="#5e81b5" stroke="#2a4468" stroke-width="0.6"/>
<circle cx="1301.97" cy="129.06" r="2.0" fill="#5e81b5" stroke="#2a4468" stroke-width="0.6"/>
<circle cx="1304.87" cy="129.06" r="2.0" fill="#5e81b5" stroke="#2a4468" stroke-width="0.6"/>
<circle cx="1307.93" cy="123.43" r="2.0" fill="#5e81b5" stroke="#2a4468" stroke-width="0.6"/>
<circle cx="1310.66" cy="116.66" r="2.0" fill="#5e81b5" stroke="#2a4468" stroke-width="0.6"/>
<circle cx="1313.40" cy="109.74" r="2.0" fill="#5e81b5" stroke="#2a4468" stroke-width="0.6"/>
<circle cx="1316.78" cy="109.42" r="2.0" fill="#5e81b5" stroke="#2a4468" stroke-width="0.6"/>
<circle cx="1319.64" cy="115.05" r="2.0" fill="#5e81b5" stroke="#2a4468" stroke-width="0.6"/>
<circle cx="1322.54" cy="121.82" r="2.0" fill="#5e81b5" stroke="#2a4468" stroke-width="0.6"/>
<circle cx="1325.44" cy="124.55" r="2.0" fill="#5e81b5" stroke="#2a4468" stroke-width="0.6"/>
<circle cx="1328.50" cy="125.84" r="2.0" fill="#5e81b5" stroke="#2a4468" stroke-width="0.6"/>
<circle cx="1331.40" cy="123.91" r="2.0" fill="#5e81b5" stroke="#2a4468" stroke-width="0.6"/>
<circle cx="1334.29" cy="117.79" r="2.0" fill="#5e81b5" stroke="#2a4468" stroke-width="0.6"/>
<circle cx="1337.35" cy="113.44" r="2.0" fill="#5e81b5" stroke="#2a4468" stroke-width="0.6"/>
<circle cx="1340.25" cy="112.16" r="2.0" fill="#5e81b5" stroke="#2a4468" stroke-width="0.6"/>
<circle cx="1343.15" cy="115.86" r="2.0" fill="#5e81b5" stroke="#2a4468" stroke-width="0.6"/>
<circle cx="1346.21" cy="120.69" r="2.0" fill="#5e81b5" stroke="#2a4468" stroke-width="0.6"/>
<circle cx="1349.11" cy="125.52" r="2.0" fill="#5e81b5" stroke="#2a4468" stroke-width="0.6"/>
<circle cx="1352.00" cy="125.84" r="2.0" fill="#5e81b5" stroke="#2a4468" stroke-width="0.6"/>
<circle cx="1355.06" cy="122.62" r="2.0" fill="#5e81b5" stroke="#2a4468" stroke-width="0.6"/>
<circle cx="1357.96" cy="116.99" r="2.0" fill="#5e81b5" stroke="#2a4468" stroke-width="0.6"/>
<circle cx="1360.86" cy="114.57" r="2.0" fill="#5e81b5" stroke="#2a4468" stroke-width="0.6"/>
<circle cx="1363.76" cy="114.09" r="2.0" fill="#5e81b5" stroke="#2a4468" stroke-width="0.6"/>
<circle cx="1366.82" cy="116.99" r="2.0" fill="#5e81b5" stroke="#2a4468" stroke-width="0.6"/>
<circle cx="1369.72" cy="121.82" r="2.0" fill="#5e81b5" stroke="#2a4468" stroke-width="0.6"/>
<circle cx="1372.61" cy="124.55" r="2.0" fill="#5e81b5" stroke="#2a4468" stroke-width="0.6"/>
<circle cx="1375.51" cy="125.84" r="2.0" fill="#5e81b5" stroke="#2a4468" stroke-width="0.6"/>
<circle cx="1378.57" cy="123.75" r="2.0" fill="#5e81b5" stroke="#2a4468" stroke-width="0.6"/>
<circle cx="1381.47" cy="120.05" r="2.0" fill="#5e81b5" stroke="#2a4468" stroke-width="0.6"/>
<circle cx="1384.37" cy="115.86" r="2.0" fill="#5e81b5" stroke="#2a4468" stroke-width="0.6"/>
<circle cx="1387.43" cy="115.86" r="2.0" fill="#5e81b5" stroke="#2a4468" stroke-width="0.6"/>
<circle cx="1390.32" cy="117.15" r="2.0" fill="#5e81b5" stroke="#2a4468" stroke-width="0.6"/>
<circle cx="1393.38" cy="121.01" r="2.0" fill="#5e81b5" stroke="#2a4468" stroke-width="0.6"/>
<circle cx="1396.28" cy="124.55" r="2.0" fill="#5e81b5" stroke="#2a4468" stroke-width="0.6"/>
<circle cx="1399.18" cy="125.04" r="2.0" fill="#5e81b5" stroke="#2a4468" stroke-width="0.6"/>
<circle cx="1402.08" cy="124.55" r="2.0" fill="#5e81b5" stroke="#2a4468" stroke-width="0.6"/>
<circle cx="1404.98" cy="119.88" r="2.0" fill="#5e81b5" stroke="#2a4468" stroke-width="0.6"/>
<circle cx="1408.03" cy="116.18" r="2.0" fill="#5e81b5" stroke="#2a4468" stroke-width="0.6"/>
<circle cx="1410.93" cy="114.89" r="2.0" fill="#5e81b5" stroke="#2a4468" stroke-width="0.6"/>
<circle cx="1413.83" cy="116.83" r="2.0" fill="#5e81b5" stroke="#2a4468" stroke-width="0.6"/>
<circle cx="1416.89" cy="121.01" r="2.0" fill="#5e81b5" stroke="#2a4468" stroke-width="0.6"/>
<circle cx="1419.79" cy="124.55" r="2.0" fill="#5e81b5" stroke="#2a4468" stroke-width="0.6"/>
<circle cx="1422.69" cy="124.72" r="2.0" fill="#5e81b5" stroke="#2a4468" stroke-width="0.6"/>
<circle cx="1425.58" cy="123.91" r="2.0" fill="#5e81b5" stroke="#2a4468" stroke-width="0.6"/>
<circle cx="1428.64" cy="120.21" r="2.0" fill="#5e81b5" stroke="#2a4468" stroke-width="0.6"/>
<circle cx="1431.54" cy="116.66" r="2.0" fill="#5e81b5" stroke="#2a4468" stroke-width="0.6"/>
<circle cx="1434.44" cy="115.22" r="2.0" fill="#5e81b5" stroke="#2a4468" stroke-width="0.6"/>
<circle cx="1437.34" cy="115.70" r="2.0" fill="#5e81b5" stroke="#2a4468" stroke-width="0.6"/>
<circle cx="1440.40" cy="119.72" r="2.0" fill="#5e81b5" stroke="#2a4468" stroke-width="0.6"/>
<circle cx="1443.29" cy="122.94" r="2.0" fill="#5e81b5" stroke="#2a4468" stroke-width="0.6"/>
<circle cx="1446.19" cy="124.72" r="2.0" fill="#5e81b5" stroke="#2a4468" stroke-width="0.6"/>
<circle cx="1449.09" cy="123.43" r="2.0" fill="#5e81b5" stroke="#2a4468" stroke-width="0.6"/>
<circle cx="1452.15" cy="121.01" r="2.0" fill="#5e81b5" stroke="#2a4468" stroke-width="0.6"/>
<circle cx="1455.05" cy="117.79" r="2.0" fill="#5e81b5" stroke="#2a4468" stroke-width="0.6"/>
<circle cx="1457.95" cy="115.22" r="2.0" fill="#5e81b5" stroke="#2a4468" stroke-width="0.6"/>
<circle cx="1461.00" cy="116.18" r="2.0" fill="#5e81b5" stroke="#2a4468" stroke-width="0.6"/>
<circle cx="1463.90" cy="119.08" r="2.0" fill="#5e81b5" stroke="#2a4468" stroke-width="0.6"/>
<rect x="1163.50" y="66.00" width="306.80" height="101.40" fill="none" stroke="#000" stroke-width="1.7"/>
<line x1="1169.70" y1="167.40" x2="1169.70" y2="164.40" stroke="#000" stroke-width="1.2" />
<line x1="1169.70" y1="66.00" x2="1169.70" y2="69.00" stroke="#000" stroke-width="1.2" />
<line x1="1179.42" y1="167.40" x2="1179.42" y2="165.70" stroke="#000" stroke-width="1.2" />
<line x1="1179.42" y1="66.00" x2="1179.42" y2="67.70" stroke="#000" stroke-width="1.2" />
<line x1="1189.14" y1="167.40" x2="1189.14" y2="165.70" stroke="#000" stroke-width="1.2" />
<line x1="1189.14" y1="66.00" x2="1189.14" y2="67.70" stroke="#000" stroke-width="1.2" />
<line x1="1198.86" y1="167.40" x2="1198.86" y2="165.70" stroke="#000" stroke-width="1.2" />
<line x1="1198.86" y1="66.00" x2="1198.86" y2="67.70" stroke="#000" stroke-width="1.2" />
<line x1="1208.58" y1="167.40" x2="1208.58" y2="165.70" stroke="#000" stroke-width="1.2" />
<line x1="1208.58" y1="66.00" x2="1208.58" y2="67.70" stroke="#000" stroke-width="1.2" />
<line x1="1218.30" y1="167.40" x2="1218.30" y2="164.40" stroke="#000" stroke-width="1.2" />
<line x1="1218.30" y1="66.00" x2="1218.30" y2="69.00" stroke="#000" stroke-width="1.2" />
<line x1="1228.02" y1="167.40" x2="1228.02" y2="165.70" stroke="#000" stroke-width="1.2" />
<line x1="1228.02" y1="66.00" x2="1228.02" y2="67.70" stroke="#000" stroke-width="1.2" />
<line x1="1237.74" y1="167.40" x2="1237.74" y2="165.70" stroke="#000" stroke-width="1.2" />
<line x1="1237.74" y1="66.00" x2="1237.74" y2="67.70" stroke="#000" stroke-width="1.2" />
<line x1="1247.46" y1="167.40" x2="1247.46" y2="165.70" stroke="#000" stroke-width="1.2" />
<line x1="1247.46" y1="66.00" x2="1247.46" y2="67.70" stroke="#000" stroke-width="1.2" />
<line x1="1257.18" y1="167.40" x2="1257.18" y2="165.70" stroke="#000" stroke-width="1.2" />
<line x1="1257.18" y1="66.00" x2="1257.18" y2="67.70" stroke="#000" stroke-width="1.2" />
<line x1="1266.90" y1="167.40" x2="1266.90" y2="164.40" stroke="#000" stroke-width="1.2" />
<line x1="1266.90" y1="66.00" x2="1266.90" y2="69.00" stroke="#000" stroke-width="1.2" />
<line x1="1276.62" y1="167.40" x2="1276.62" y2="165.70" stroke="#000" stroke-width="1.2" />
<line x1="1276.62" y1="66.00" x2="1276.62" y2="67.70" stroke="#000" stroke-width="1.2" />
<line x1="1286.34" y1="167.40" x2="1286.34" y2="165.70" stroke="#000" stroke-width="1.2" />
<line x1="1286.34" y1="66.00" x2="1286.34" y2="67.70" stroke="#000" stroke-width="1.2" />
<line x1="1296.06" y1="167.40" x2="1296.06" y2="165.70" stroke="#000" stroke-width="1.2" />
<line x1="1296.06" y1="66.00" x2="1296.06" y2="67.70" stroke="#000" stroke-width="1.2" />
<line x1="1305.78" y1="167.40" x2="1305.78" y2="165.70" stroke="#000" stroke-width="1.2" />
<line x1="1305.78" y1="66.00" x2="1305.78" y2="67.70" stroke="#000" stroke-width="1.2" />
<line x1="1315.50" y1="167.40" x2="1315.50" y2="164.40" stroke="#000" stroke-width="1.2" />
<line x1="1315.50" y1="66.00" x2="1315.50" y2="69.00" stroke="#000" stroke-width="1.2" />
<line x1="1325.22" y1="167.40" x2="1325.22" y2="165.70" stroke="#000" stroke-width="1.2" />
<line x1="1325.22" y1="66.00" x2="1325.22" y2="67.70" stroke="#000" stroke-width="1.2" />
<line x1="1334.94" y1="167.40" x2="1334.94" y2="165.70" stroke="#000" stroke-width="1.2" />
<line x1="1334.94" y1="66.00" x2="1334.94" y2="67.70" stroke="#000" stroke-width="1.2" />
<line x1="1344.66" y1="167.40" x2="1344.66" y2="165.70" stroke="#000" stroke-width="1.2" />
<line x1="1344.66" y1="66.00" x2="1344.66" y2="67.70" stroke="#000" stroke-width="1.2" />
<line x1="1354.38" y1="167.40" x2="1354.38" y2="165.70" stroke="#000" stroke-width="1.2" />
<line x1="1354.38" y1="66.00" x2="1354.38" y2="67.70" stroke="#000" stroke-width="1.2" />
<line x1="1364.10" y1="167.40" x2="1364.10" y2="164.40" stroke="#000" stroke-width="1.2" />
<line x1="1364.10" y1="66.00" x2="1364.10" y2="69.00" stroke="#000" stroke-width="1.2" />
<line x1="1373.82" y1="167.40" x2="1373.82" y2="165.70" stroke="#000" stroke-width="1.2" />
<line x1="1373.82" y1="66.00" x2="1373.82" y2="67.70" stroke="#000" stroke-width="1.2" />
<line x1="1383.54" y1="167.40" x2="1383.54" y2="165.70" stroke="#000" stroke-width="1.2" />
<line x1="1383.54" y1="66.00" x2="1383.54" y2="67.70" stroke="#000" stroke-width="1.2" />
<line x1="1393.26" y1="167.40" x2="1393.26" y2="165.70" stroke="#000" stroke-width="1.2" />
<line x1="1393.26" y1="66.00" x2="1393.26" y2="67.70" stroke="#000" stroke-width="1.2" />
<line x1="1402.98" y1="167.40" x2="1402.98" y2="165.70" stroke="#000" stroke-width="1.2" />
<line x1="1402.98" y1="66.00" x2="1402.98" y2="67.70" stroke="#000" stroke-width="1.2" />
<line x1="1412.70" y1="167.40" x2="1412.70" y2="164.40" stroke="#000" stroke-width="1.2" />
<line x1="1412.70" y1="66.00" x2="1412.70" y2="69.00" stroke="#000" stroke-width="1.2" />
<line x1="1422.42" y1="167.40" x2="1422.42" y2="165.70" stroke="#000" stroke-width="1.2" />
<line x1="1422.42" y1="66.00" x2="1422.42" y2="67.70" stroke="#000" stroke-width="1.2" />
<line x1="1432.14" y1="167.40" x2="1432.14" y2="165.70" stroke="#000" stroke-width="1.2" />
<line x1="1432.14" y1="66.00" x2="1432.14" y2="67.70" stroke="#000" stroke-width="1.2" />
<line x1="1441.86" y1="167.40" x2="1441.86" y2="165.70" stroke="#000" stroke-width="1.2" />
<line x1="1441.86" y1="66.00" x2="1441.86" y2="67.70" stroke="#000" stroke-width="1.2" />
<line x1="1451.58" y1="167.40" x2="1451.58" y2="165.70" stroke="#000" stroke-width="1.2" />
<line x1="1451.58" y1="66.00" x2="1451.58" y2="67.70" stroke="#000" stroke-width="1.2" />
<line x1="1461.30" y1="167.40" x2="1461.30" y2="164.40" stroke="#000" stroke-width="1.2" />
<line x1="1461.30" y1="66.00" x2="1461.30" y2="69.00" stroke="#000" stroke-width="1.2" />
<line x1="1163.50" y1="167.60" x2="1166.50" y2="167.60" stroke="#000" stroke-width="1.2" />
<line x1="1470.30" y1="167.60" x2="1467.30" y2="167.60" stroke="#000" stroke-width="1.2" />
<line x1="1163.50" y1="157.94" x2="1165.20" y2="157.94" stroke="#000" stroke-width="1.2" />
<line x1="1470.30" y1="157.94" x2="1468.60" y2="157.94" stroke="#000" stroke-width="1.2" />
<line x1="1163.50" y1="148.28" x2="1165.20" y2="148.28" stroke="#000" stroke-width="1.2" />
<line x1="1470.30" y1="148.28" x2="1468.60" y2="148.28" stroke="#000" stroke-width="1.2" />
<line x1="1163.50" y1="138.62" x2="1165.20" y2="138.62" stroke="#000" stroke-width="1.2" />
<line x1="1470.30" y1="138.62" x2="1468.60" y2="138.62" stroke="#000" stroke-width="1.2" />
<line x1="1163.50" y1="128.96" x2="1165.20" y2="128.96" stroke="#000" stroke-width="1.2" />
<line x1="1470.30" y1="128.96" x2="1468.60" y2="128.96" stroke="#000" stroke-width="1.2" />
<line x1="1163.50" y1="119.30" x2="1166.50" y2="119.30" stroke="#000" stroke-width="1.2" />
<line x1="1470.30" y1="119.30" x2="1467.30" y2="119.30" stroke="#000" stroke-width="1.2" />
<line x1="1163.50" y1="109.64" x2="1165.20" y2="109.64" stroke="#000" stroke-width="1.2" />
<line x1="1470.30" y1="109.64" x2="1468.60" y2="109.64" stroke="#000" stroke-width="1.2" />
<line x1="1163.50" y1="99.98" x2="1165.20" y2="99.98" stroke="#000" stroke-width="1.2" />
<line x1="1470.30" y1="99.98" x2="1468.60" y2="99.98" stroke="#000" stroke-width="1.2" />
<line x1="1163.50" y1="90.32" x2="1165.20" y2="90.32" stroke="#000" stroke-width="1.2" />
<line x1="1470.30" y1="90.32" x2="1468.60" y2="90.32" stroke="#000" stroke-width="1.2" />
<line x1="1163.50" y1="80.66" x2="1165.20" y2="80.66" stroke="#000" stroke-width="1.2" />
<line x1="1470.30" y1="80.66" x2="1468.60" y2="80.66" stroke="#000" stroke-width="1.2" />
<line x1="1163.50" y1="71.00" x2="1166.50" y2="71.00" stroke="#000" stroke-width="1.2" />
<line x1="1470.30" y1="71.00" x2="1467.30" y2="71.00" stroke="#000" stroke-width="1.2" />
<text x="1162.59" y="191.27" font-size="25.50" font-family="Liberation Sans" fill="#000">0</text>
<text x="1203.67" y="191.27" font-size="25.50" font-family="Liberation Sans" fill="#000">10</text>
<text x="1252.59" y="191.27" font-size="25.50" font-family="Liberation Sans" fill="#000">20</text>
<text x="1301.35" y="191.27" font-size="25.50" font-family="Liberation Sans" fill="#000">30</text>
<text x="1350.14" y="191.27" font-size="25.50" font-family="Liberation Sans" fill="#000">40</text>
<text x="1398.52" y="191.27" font-size="25.50" font-family="Liberation Sans" fill="#000">50</text>
<text x="1446.99" y="191.27" font-size="25.50" font-family="Liberation Sans" fill="#000">60</text>
<text x="1141.42" y="79.55" font-size="24.00" font-family="Liberation Sans" fill="#000">1</text>
<text x="1143.18" y="130.35" font-size="24.00" font-family="Liberation Sans" fill="#000">0</text>
<text x="1133.44" y="175.45" font-size="24.00" font-family="Liberation Sans" fill="#000">-1</text>
<text transform="translate(1273.87,222.58) scale(1.1512,1)" font-size="32.13" font-family="Liberation Serif" font-style="italic" fill="#000">τ</text>
<text transform="translate(1299.47,222.83) scale(0.8683,1)" font-size="36.58" font-family="Liberation Serif" fill="#000">(</text>
<text transform="translate(1310.00,224.02) scale(0.9767,1)" font-size="35.26" font-family="Liberation Serif" font-style="italic" fill="#000">μ</text>
<text transform="translate(1326.94,222.67) scale(1.1025,1)" font-size="33.13" font-family="Liberation Serif" font-style="italic" fill="#000">s</text>
<text transform="translate(1340.19,222.83) scale(0.8492,1)" font-size="36.58" font-family="Liberation Serif" fill="#000">)</text>
<path d="M1099.60,103.20 L1115.80,96.80 L1131.90,103.20" fill="none" stroke="#000" stroke-width="1.3" stroke-linejoin="miter"/>
<path d="M1099.60,134.80 L1115.80,140.90 L1131.90,134.80" fill="none" stroke="#000" stroke-width="1.3" stroke-linejoin="miter"/>
<text transform="translate(1124.59,131.51) rotate(-90) scale(1.2113,1)" font-size="30.52" font-family="Liberation Serif" font-style="italic" fill="#000">σ</text>
<text transform="translate(1135.00,112.81) rotate(-90) scale(1.0796,1)" font-size="18.04" font-family="Liberation Serif" font-style="italic" fill="#000">z</text>
</svg>
</body></html>
